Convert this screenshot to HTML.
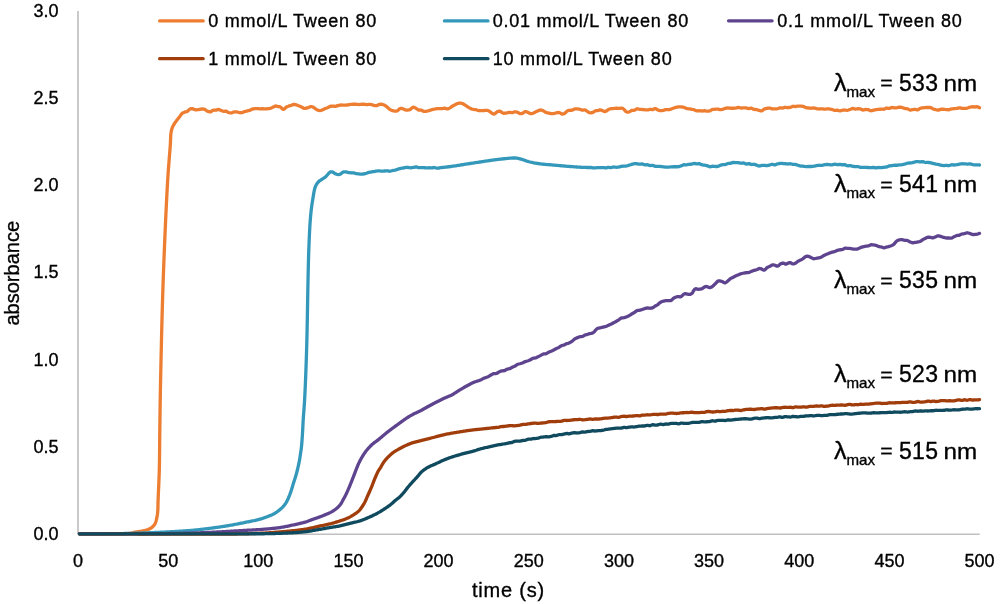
<!DOCTYPE html>
<html><head><meta charset="utf-8"><style>
html,body{margin:0;padding:0;background:#fff;}
svg{display:block;will-change:transform;}
text{font-family:"Liberation Sans",sans-serif;fill:#000;stroke:#000;stroke-width:0.35px;}
</style></head><body>
<svg width="1000" height="604" viewBox="0 0 1000 604">
<line x1="78" y1="11" x2="78" y2="534" stroke="#C4C4C4" stroke-width="1.8"/>
<line x1="78" y1="534.2" x2="979.7" y2="534.2" stroke="#C0C0C0" stroke-width="1.6"/>
<text x="58.6" y="539.7" text-anchor="end" font-size="18">0.0</text>
<text x="58.6" y="452.6" text-anchor="end" font-size="18">0.5</text>
<text x="58.6" y="365.5" text-anchor="end" font-size="18">1.0</text>
<text x="58.6" y="278.4" text-anchor="end" font-size="18">1.5</text>
<text x="58.6" y="191.3" text-anchor="end" font-size="18">2.0</text>
<text x="58.6" y="104.2" text-anchor="end" font-size="18">2.5</text>
<text x="58.6" y="17.1" text-anchor="end" font-size="18">3.0</text>
<text x="78.0" y="567.2" text-anchor="middle" font-size="18">0</text>
<text x="168.2" y="567.2" text-anchor="middle" font-size="18">50</text>
<text x="258.3" y="567.2" text-anchor="middle" font-size="18">100</text>
<text x="348.4" y="567.2" text-anchor="middle" font-size="18">150</text>
<text x="438.6" y="567.2" text-anchor="middle" font-size="18">200</text>
<text x="528.8" y="567.2" text-anchor="middle" font-size="18">250</text>
<text x="618.9" y="567.2" text-anchor="middle" font-size="18">300</text>
<text x="709.0" y="567.2" text-anchor="middle" font-size="18">350</text>
<text x="799.2" y="567.2" text-anchor="middle" font-size="18">400</text>
<text x="889.4" y="567.2" text-anchor="middle" font-size="18">450</text>
<text x="979.5" y="567.2" text-anchor="middle" font-size="18">500</text>
<text x="472" y="596.6" font-size="20" letter-spacing="0.8">time (s)</text>
<text transform="translate(19,325.5) rotate(-90)" font-size="20">absorbance</text>
<path d="M79.40 533.80L80.42 533.80L81.46 533.80L82.52 533.80L83.58 533.81L84.66 533.81L85.75 533.81L86.85 533.82L87.96 533.82L89.07 533.83L90.19 533.83L91.31 533.84L92.44 533.84L93.57 533.85L94.70 533.85L95.83 533.86L96.95 533.86L98.08 533.87L99.19 533.87L100.30 533.88L101.41 533.88L102.51 533.89L103.59 533.89L104.67 533.89L105.73 533.90L106.78 533.90L107.81 533.90L108.83 533.90L109.83 533.90L110.81 533.90L111.77 533.89L112.71 533.89L113.63 533.89L114.52 533.88L115.39 533.87L116.23 533.86L117.05 533.85L117.83 533.84L118.59 533.83L119.31 533.82L120.00 533.80L121.28 533.77L122.47 533.74L123.58 533.72L124.61 533.69L125.59 533.65L126.51 533.61L127.41 533.56L128.28 533.49L129.14 533.40L130.00 533.30L131.09 533.12L132.12 532.91L133.10 532.68L134.06 532.43L135.02 532.20L136.00 532.00L137.18 531.80L138.36 531.64L139.54 531.48L140.72 531.31L141.90 531.10L142.92 530.90L143.95 530.69L144.99 530.46L146.00 530.21L146.98 529.93L147.90 529.60L149.02 529.12L150.08 528.59L151.08 527.98L152.00 527.30L152.86 526.55L153.65 525.72L154.37 524.81L155.00 523.80L155.41 522.93L155.77 521.99L156.07 520.98L156.33 519.95L156.57 518.92L156.80 517.90L157.01 516.93L157.18 515.99L157.34 515.04L157.47 514.06L157.59 513.02L157.70 511.90L157.77 510.99L157.83 510.06L157.87 509.09L157.91 508.10L157.93 507.07L157.96 506.00L157.98 504.90L158.00 503.75L158.02 502.55L158.06 501.30L158.10 500.00L158.13 499.21L158.16 498.40L158.20 497.57L158.23 496.72L158.27 495.84L158.31 494.94L158.35 494.02L158.39 493.09L158.43 492.14L158.48 491.17L158.52 490.19L158.56 489.19L158.61 488.18L158.66 487.16L158.70 486.12L158.75 485.08L158.79 484.03L158.84 482.97L158.88 481.90L158.93 480.82L158.97 479.75L159.01 478.67L159.05 477.58L159.09 476.49L159.13 475.41L159.17 474.32L159.21 473.24L159.24 472.15L159.27 471.07L159.30 470.00L159.32 469.07L159.35 468.14L159.37 467.20L159.39 466.25L159.41 465.31L159.42 464.35L159.44 463.40L159.46 462.44L159.47 461.48L159.49 460.51L159.50 459.54L159.51 458.56L159.53 457.59L159.54 456.60L159.55 455.62L159.56 454.63L159.57 453.64L159.58 452.64L159.59 451.64L159.60 450.64L159.61 449.63L159.61 448.62L159.62 447.61L159.63 446.60L159.64 445.58L159.65 444.56L159.66 443.54L159.66 442.51L159.67 441.48L159.68 440.45L159.69 439.41L159.70 438.38L159.71 437.34L159.72 436.30L159.73 435.25L159.75 434.21L159.76 433.16L159.77 432.11L159.79 431.05L159.80 430.00L159.81 429.06L159.83 428.12L159.84 427.18L159.85 426.24L159.87 425.30L159.88 424.37L159.89 423.43L159.90 422.50L159.92 421.56L159.93 420.63L159.94 419.70L159.96 418.76L159.97 417.83L159.98 416.89L159.99 415.95L160.01 415.01L160.02 414.07L160.03 413.12L160.05 412.17L160.06 411.22L160.07 410.27L160.09 409.31L160.10 408.35L160.12 407.39L160.13 406.42L160.14 405.45L160.16 404.47L160.17 403.49L160.19 402.50L160.21 401.50L160.22 400.50L160.24 399.50L160.25 398.48L160.27 397.46L160.29 396.44L160.31 395.40L160.32 394.36L160.34 393.31L160.36 392.25L160.38 391.19L160.40 390.11L160.42 389.03L160.44 387.93L160.46 386.83L160.48 385.72L160.51 384.60L160.53 383.46L160.55 382.32L160.58 381.17L160.60 380.00L160.62 379.17L160.64 378.33L160.65 377.48L160.67 376.63L160.69 375.77L160.71 374.91L160.73 374.04L160.74 373.16L160.76 372.28L160.78 371.39L160.80 370.49L160.82 369.59L160.84 368.69L160.86 367.78L160.88 366.86L160.90 365.94L160.92 365.01L160.94 364.08L160.96 363.14L160.98 362.20L161.00 361.25L161.02 360.30L161.04 359.34L161.06 358.38L161.08 357.41L161.11 356.44L161.13 355.47L161.15 354.49L161.17 353.51L161.19 352.52L161.22 351.53L161.24 350.54L161.26 349.54L161.28 348.54L161.31 347.54L161.33 346.53L161.35 345.52L161.38 344.50L161.40 343.49L161.43 342.47L161.45 341.45L161.47 340.42L161.50 339.39L161.52 338.37L161.55 337.33L161.57 336.30L161.60 335.26L161.62 334.22L161.65 333.18L161.67 332.14L161.70 331.10L161.73 330.05L161.75 329.01L161.78 327.96L161.80 326.91L161.83 325.86L161.86 324.81L161.89 323.75L161.91 322.70L161.94 321.64L161.97 320.59L162.00 319.53L162.02 318.48L162.05 317.42L162.08 316.36L162.11 315.31L162.14 314.25L162.17 313.19L162.20 312.13L162.23 311.08L162.26 310.02L162.29 308.97L162.32 307.91L162.35 306.86L162.38 305.80L162.41 304.75L162.44 303.70L162.47 302.65L162.50 301.60L162.53 300.55L162.56 299.50L162.59 298.45L162.63 297.41L162.66 296.37L162.69 295.33L162.72 294.29L162.76 293.25L162.79 292.22L162.82 291.18L162.86 290.15L162.89 289.13L162.92 288.10L162.96 287.08L162.99 286.06L163.03 285.04L163.06 284.03L163.09 283.01L163.13 282.01L163.16 281.00L163.20 280.00L163.24 279.00L163.27 277.99L163.31 276.98L163.35 275.96L163.38 274.94L163.42 273.91L163.46 272.88L163.50 271.85L163.53 270.81L163.57 269.77L163.61 268.72L163.65 267.67L163.69 266.62L163.73 265.57L163.77 264.51L163.81 263.45L163.86 262.38L163.90 261.32L163.94 260.25L163.98 259.18L164.02 258.10L164.07 257.03L164.11 255.95L164.15 254.87L164.19 253.79L164.24 252.71L164.28 251.63L164.33 250.55L164.37 249.46L164.41 248.38L164.46 247.29L164.50 246.21L164.55 245.12L164.59 244.04L164.64 242.95L164.69 241.87L164.73 240.78L164.78 239.70L164.82 238.61L164.87 237.53L164.92 236.45L164.96 235.37L165.01 234.29L165.06 233.21L165.10 232.14L165.15 231.06L165.20 229.99L165.24 228.92L165.29 227.85L165.34 226.79L165.39 225.72L165.44 224.66L165.48 223.61L165.53 222.55L165.58 221.50L165.63 220.45L165.67 219.41L165.72 218.37L165.77 217.33L165.82 216.30L165.87 215.27L165.91 214.25L165.96 213.23L166.01 212.21L166.06 211.20L166.11 210.19L166.16 209.19L166.20 208.20L166.25 207.21L166.30 206.22L166.35 205.24L166.40 204.27L166.44 203.30L166.49 202.34L166.54 201.39L166.59 200.44L166.64 199.50L166.68 198.56L166.73 197.63L166.78 196.71L166.83 195.80L166.87 194.89L166.92 193.99L166.97 193.10L167.01 192.22L167.06 191.34L167.11 190.47L167.15 189.61L167.20 188.76L167.25 187.92L167.29 187.09L167.34 186.26L167.38 185.44L167.43 184.64L167.48 183.84L167.52 183.05L167.57 182.28L167.61 181.51L167.66 180.75L167.70 180.00L167.78 178.75L167.85 177.52L167.93 176.30L168.01 175.09L168.09 173.90L168.17 172.73L168.25 171.57L168.33 170.43L168.41 169.30L168.49 168.18L168.57 167.08L168.66 166.00L168.74 164.93L168.82 163.87L168.90 162.83L168.98 161.80L169.06 160.79L169.14 159.79L169.22 158.81L169.30 157.84L169.38 156.89L169.45 155.95L169.53 155.02L169.60 154.11L169.67 153.21L169.75 152.33L169.81 151.46L169.88 150.60L169.95 149.76L170.01 148.93L170.07 148.12L170.13 147.32L170.19 146.53L170.25 145.76L170.30 145.00L170.38 143.71L170.44 142.46L170.49 141.26L170.54 140.11L170.57 139.01L170.61 137.94L170.66 136.91L170.71 135.92L170.77 134.97L170.86 134.05L170.97 133.16L171.10 132.30L171.31 131.19L171.53 130.18L171.78 129.23L172.07 128.32L172.41 127.42L172.80 126.50L173.30 125.50L173.89 124.50L174.53 123.51L175.19 122.54L175.86 121.60L176.50 120.70L177.17 119.80L177.84 118.94L178.51 118.10L179.17 117.30L179.80 116.50L180.42 115.61L180.98 114.72L181.58 113.89L182.30 113.20L183.25 112.70L184.33 112.36L185.45 111.86L186.50 111.82L187.43 111.36L188.29 110.44L189.18 109.60L190.20 108.96L191.11 108.65L192.11 108.56L193.16 108.89L194.24 109.39L195.33 109.76L196.40 109.86L197.50 109.72L198.63 109.55L199.77 109.32L200.89 109.10L201.98 108.99L203.00 109.03L204.06 109.10L205.03 109.52L205.97 110.24L206.94 110.96L208.00 111.34L208.89 111.72L209.79 111.87L210.72 111.81L211.69 111.14L212.71 110.47L213.81 110.11L215.00 110.13L215.83 110.23L216.71 109.90L217.65 109.59L218.63 109.46L219.66 109.86L220.71 110.30L221.79 110.69L222.89 111.08L224.01 111.31L225.12 111.25L226.24 111.21L227.34 111.86L228.43 112.48L229.50 112.78L230.54 112.91L231.54 112.93L232.50 112.55L233.58 112.08L234.63 111.90L235.66 111.90L236.67 111.89L237.66 112.14L238.65 112.36L239.62 112.53L240.59 112.65L241.56 112.76L242.54 112.47L243.51 112.05L244.50 111.62L245.51 111.35L246.52 111.04L247.53 110.79L248.54 110.61L249.54 110.42L250.55 109.91L251.55 109.39L252.55 109.00L253.55 108.83L254.54 108.70L255.52 108.63L256.50 108.61L257.57 108.65L258.63 108.69L259.67 108.78L260.71 108.78L261.75 108.75L262.79 108.74L263.83 108.83L264.87 108.89L265.93 108.89L267.00 108.81L268.00 108.68L269.04 108.57L270.10 108.39L271.18 108.00L272.27 107.52L273.35 107.01L274.41 106.49L275.44 106.01L276.42 106.09L277.35 106.32L278.22 106.61L279.00 106.55L280.07 106.83L280.97 107.49L281.79 108.37L282.61 109.09L283.50 109.37L284.28 108.99L285.07 108.31L285.87 107.42L286.69 106.91L287.55 106.51L288.45 106.25L289.40 105.83L290.30 105.56L291.25 105.36L292.25 104.91L293.28 104.52L294.33 104.44L295.38 104.67L296.42 104.93L297.43 105.31L298.40 105.68L299.40 106.07L300.40 106.44L301.39 106.89L302.36 107.44L303.31 108.00L304.24 108.47L305.13 108.47L306.00 108.31L307.06 107.92L308.05 107.61L309.00 107.22L309.97 106.78L311.00 106.52L311.93 106.68L312.86 107.02L313.81 107.52L314.78 108.15L315.80 109.03L316.87 109.76L318.00 110.25L318.87 110.43L319.79 110.52L320.75 110.34L321.74 110.09L322.76 109.71L323.79 109.19L324.84 108.63L325.89 108.27L326.94 107.96L327.98 107.54L329.00 106.94L330.00 106.41L331.02 106.24L332.01 106.16L332.99 106.13L333.97 106.26L334.94 106.39L335.93 106.27L336.92 105.92L337.94 105.57L338.99 105.30L340.07 105.03L341.20 104.96L342.13 105.06L343.09 105.16L344.07 105.16L345.09 105.15L346.13 105.12L347.18 105.01L348.25 104.92L349.34 104.68L350.43 104.44L351.52 104.30L352.62 104.27L353.71 104.26L354.80 104.25L355.87 104.25L356.93 104.35L357.98 104.48L359.00 104.56L360.00 104.42L361.06 104.30L362.14 104.25L363.22 104.25L364.30 104.31L365.38 104.47L366.45 104.64L367.51 104.54L368.55 104.40L369.57 104.36L370.57 104.47L371.53 104.56L372.46 104.87L373.35 105.22L374.20 105.54L375.00 105.68L376.13 105.70L377.12 105.54L378.04 105.04L378.94 104.58L379.91 104.26L381.00 104.18L381.80 104.27L382.66 104.47L383.59 104.78L384.56 105.17L385.57 105.85L386.60 106.65L387.65 107.51L388.70 108.43L389.74 109.33L390.76 109.91L391.75 110.33L392.70 110.68L393.60 110.93L394.44 111.06L395.20 111.06L396.39 111.07L397.42 110.73L398.38 109.96L399.37 109.03L400.50 108.34L401.41 108.43L402.41 108.68L403.47 109.06L404.56 109.56L405.65 110.05L406.72 110.06L407.74 110.02L408.68 109.96L409.50 109.83L410.52 109.28L411.35 108.47L412.18 107.68L413.20 107.20L413.97 107.29L414.82 107.63L415.74 108.12L416.70 108.76L417.71 109.50L418.75 110.14L419.81 110.09L420.88 109.98L421.95 110.45L423.00 111.06L423.95 111.42L424.91 111.38L425.88 111.27L426.86 111.10L427.86 110.90L428.86 110.66L429.87 110.32L430.89 109.96L431.91 109.64L432.94 109.43L433.97 109.27L435.00 109.01L436.01 108.77L437.03 108.61L438.07 108.63L439.12 108.67L440.17 108.65L441.22 108.62L442.28 108.54L443.33 108.36L444.37 108.15L445.41 108.42L446.42 108.79L447.42 108.97L448.40 108.62L449.39 108.17L450.37 107.58L451.32 106.90L452.26 106.17L453.19 105.69L454.11 105.25L455.03 104.83L455.95 104.30L456.87 103.84L457.80 103.47L458.74 103.18L459.70 103.03L460.59 103.07L461.50 103.27L462.43 103.57L463.36 104.02L464.30 104.58L465.25 105.20L466.19 105.81L467.12 106.43L468.05 107.05L468.96 107.61L469.86 108.14L470.73 108.60L471.58 108.95L472.40 109.21L473.57 109.46L474.69 109.56L475.77 109.63L476.83 110.00L477.87 110.32L478.93 110.52L480.00 110.58L481.08 110.53L482.17 110.58L483.26 110.56L484.34 110.48L485.42 110.41L486.47 110.42L487.50 110.46L488.51 110.77L489.50 111.35L490.47 112.06L491.43 112.81L492.37 113.48L493.29 113.96L494.20 114.08L495.13 113.57L496.03 112.73L496.92 111.93L497.80 111.48L498.66 111.21L499.50 111.15L500.39 111.36L501.21 111.95L502.04 112.64L502.95 113.10L504.00 113.24L504.86 113.20L505.82 113.14L506.85 112.96L507.93 112.73L509.06 112.47L510.19 112.42L511.33 112.61L512.44 112.67L513.50 112.24L514.50 111.93L515.67 111.90L516.84 112.07L517.99 112.52L519.10 113.17L520.16 113.68L521.13 113.71L522.00 113.57L523.06 112.99L523.94 112.21L525.00 111.63L525.89 111.65L526.89 111.92L527.98 112.34L529.12 112.95L530.28 113.51L531.41 113.55L532.50 113.33L533.45 113.01L534.38 112.61L535.30 112.07L536.22 111.59L537.14 111.17L538.08 110.84L539.03 110.35L540.00 110.05L540.95 110.01L541.92 110.22L542.89 110.59L543.88 111.12L544.87 111.78L545.89 112.44L546.91 112.76L547.95 112.92L549.00 113.11L550.02 113.42L551.10 113.64L552.20 113.62L553.33 113.53L554.45 113.31L555.56 113.02L556.64 112.75L557.66 112.59L558.62 112.47L559.50 112.67L560.76 113.39L561.87 114.00L562.92 114.02L564.00 113.76L564.83 113.28L565.60 112.59L566.38 111.78L567.20 111.09L568.12 110.64L569.20 110.41L570.00 110.31L570.90 110.25L571.89 110.23L572.96 109.74L574.07 109.19L575.23 108.93L576.42 108.92L577.61 108.96L578.80 109.09L579.97 109.27L581.11 109.71L582.19 110.14L583.21 110.08L584.15 109.93L585.00 109.82L586.17 110.51L587.19 111.30L588.12 111.95L589.02 112.43L589.96 112.79L591.00 112.89L591.93 112.73L592.92 112.35L593.96 111.73L595.01 111.03L596.07 110.69L597.12 110.61L598.14 110.52L599.10 110.15L600.00 109.97L601.15 110.11L602.24 110.55L603.27 111.09L604.25 111.48L605.20 111.51L606.14 111.11L606.96 110.55L607.86 109.91L609.00 109.33L609.77 109.01L610.66 108.70L611.65 108.56L612.73 108.53L613.86 108.48L615.03 108.26L616.22 108.06L617.39 108.25L618.54 108.47L619.64 108.32L620.66 108.10L621.59 108.04L622.40 108.31L623.47 108.90L624.33 109.72L625.11 110.69L625.96 111.58L627.00 112.14L627.79 112.14L628.67 112.02L629.61 111.69L630.61 111.12L631.66 110.49L632.73 110.37L633.81 110.33L634.90 110.00L635.98 109.37L637.03 108.81L638.04 108.97L639.00 109.21L640.06 109.40L641.12 109.42L642.16 109.51L643.19 109.58L644.19 109.66L645.18 109.77L646.15 109.89L647.09 109.94L648.00 109.87L649.06 109.63L650.05 109.29L651.00 109.44L651.95 109.59L652.94 109.49L654.00 108.90L654.92 108.50L655.88 108.78L656.86 109.38L657.88 110.00L658.90 110.31L659.94 110.61L660.97 110.70L661.99 110.60L663.00 110.40L664.01 110.09L665.02 109.71L666.03 109.53L667.05 109.64L668.06 109.73L669.06 109.53L670.05 109.30L671.03 109.05L672.00 108.69L673.07 108.30L674.09 107.94L675.07 107.60L676.07 107.29L677.12 107.05L678.25 106.87L679.50 106.81L680.27 106.84L681.09 106.92L681.95 106.99L682.83 107.08L683.76 107.21L684.71 107.66L685.68 108.15L686.68 108.56L687.69 108.70L688.73 108.84L689.77 108.99L690.82 109.14L691.88 109.29L692.95 109.50L694.01 109.69L695.07 110.16L696.12 110.67L697.16 110.96L698.19 110.88L699.20 110.75L700.22 110.85L701.25 110.97L702.29 111.01L703.33 110.88L704.37 110.72L705.41 110.86L706.46 111.07L707.51 111.19L708.56 111.08L709.61 110.97L710.66 110.43L711.70 109.79L712.75 109.35L713.80 109.31L714.84 109.27L715.88 109.20L716.92 109.14L717.95 109.19L718.98 109.44L720.00 109.71L721.03 109.60L722.07 109.38L723.11 109.12L724.16 108.76L725.21 108.40L726.25 108.18L727.30 108.00L728.34 107.93L729.37 108.08L730.40 108.23L731.43 108.25L732.44 108.25L733.45 108.24L734.44 108.22L735.43 108.21L736.39 107.99L737.35 107.65L738.28 107.33L739.20 107.51L740.37 107.86L741.52 108.02L742.66 107.94L743.78 107.88L744.88 107.84L745.96 107.81L747.02 108.10L748.06 108.50L749.08 108.71L750.08 108.45L751.05 108.21L752.00 108.39L753.10 108.93L754.15 109.45L755.15 109.48L756.13 109.52L757.10 109.73L758.05 110.06L759.02 110.29L760.00 110.66L761.00 110.91L762.00 110.84L763.00 110.03L763.99 109.16L764.99 108.68L765.99 108.52L766.99 108.46L768.00 108.18L769.00 108.07L770.01 108.18L771.03 108.52L772.05 108.90L773.06 108.95L774.06 108.92L775.04 108.88L776.00 108.90L777.08 108.77L778.08 108.51L779.06 108.19L780.07 107.87L781.17 107.91L782.40 108.05L783.21 107.92L784.08 107.68L785.01 107.45L785.98 107.47L787.00 107.57L788.04 107.63L789.11 107.51L790.20 107.40L791.29 106.96L792.38 106.47L793.46 106.27L794.52 106.47L795.55 106.67L796.55 106.44L797.50 106.21L798.40 106.04L799.56 106.03L800.65 106.06L801.69 106.15L802.70 106.27L803.70 106.53L804.71 107.09L805.75 107.66L806.84 107.86L808.00 107.93L808.88 108.00L809.79 108.11L810.71 108.23L811.65 108.22L812.61 108.07L813.59 107.92L814.58 108.09L815.59 108.35L816.60 108.60L817.63 108.79L818.67 108.99L819.72 108.97L820.78 108.84L821.85 108.78L822.92 108.98L824.00 109.18L824.94 109.13L825.93 109.03L826.95 108.93L828.00 108.94L829.08 108.94L830.18 109.09L831.29 109.28L832.42 109.58L833.54 110.05L834.67 110.47L835.79 110.35L836.89 110.22L837.98 110.38L839.04 110.64L840.07 110.77L841.07 110.55L842.02 110.34L842.93 110.20L843.79 110.11L844.59 110.02L845.33 110.03L846.00 110.16L847.37 110.29L848.39 110.02L849.42 109.69L850.80 109.20L851.45 108.86L852.16 108.53L852.92 108.29L853.74 108.60L854.61 108.94L855.52 109.23L856.48 109.00L857.47 108.76L858.49 108.69L859.54 108.79L860.61 108.91L861.70 109.46L862.81 110.02L863.93 109.95L865.06 109.53L866.18 109.32L867.31 109.53L868.43 109.73L869.54 110.24L870.64 110.73L871.72 110.69L872.77 110.38L873.80 110.09L874.80 109.89L875.84 109.66L876.88 109.54L877.93 109.45L878.98 109.35L880.03 109.24L881.08 109.11L882.12 109.14L883.17 109.23L884.21 109.18L885.26 108.62L886.29 108.06L887.33 108.08L888.35 108.33L889.37 108.47L890.39 108.01L891.39 107.57L892.39 107.50L893.37 107.70L894.35 107.92L895.31 107.85L896.26 107.79L897.20 107.71L898.28 107.41L899.35 107.17L900.41 107.24L901.46 107.42L902.50 107.67L903.53 108.06L904.55 108.45L905.55 108.61L906.55 108.68L907.53 108.82L908.51 109.35L909.47 109.85L910.42 110.05L911.36 109.87L912.28 109.64L913.20 109.55L914.29 109.45L915.33 109.34L916.33 109.63L917.31 109.86L918.28 109.62L919.25 108.93L920.22 108.24L921.21 108.00L922.23 107.91L923.29 107.82L924.40 107.62L925.33 107.53L926.29 107.48L927.27 107.47L928.28 107.50L929.30 107.49L930.34 107.51L931.40 107.90L932.46 108.57L933.53 109.20L934.61 109.43L935.68 109.66L936.76 109.84L937.83 110.01L938.89 110.01L939.94 109.63L940.98 109.23L942.00 109.20L943.03 109.25L944.07 109.31L945.12 109.47L946.18 109.60L947.24 109.70L948.30 109.77L949.35 109.69L950.39 109.30L951.42 108.90L952.43 108.78L953.43 108.72L954.40 108.65L955.35 108.53L956.27 108.43L957.15 108.28L958.00 108.07L959.13 107.84L960.18 107.97L961.17 108.22L962.13 108.45L963.07 108.45L964.02 108.41L964.99 108.36L966.00 108.28L967.06 108.11L968.16 107.77L969.30 107.36L970.45 107.03L971.59 106.80L972.69 106.68L973.74 106.81L974.72 107.01L975.60 106.90L976.70 106.74L977.66 106.81L978.57 107.29L979.50 107.74" fill="none" stroke="#ED7D31" stroke-width="3.3" stroke-linejoin="round" stroke-linecap="round"/>
<path d="M79.40 533.80L80.42 533.80L81.44 533.79L82.46 533.79L83.49 533.78L84.52 533.78L85.55 533.78L86.58 533.78L87.62 533.77L88.66 533.77L89.69 533.77L90.73 533.77L91.77 533.77L92.81 533.77L93.85 533.77L94.89 533.77L95.93 533.76L96.97 533.76L98.01 533.76L99.05 533.76L100.08 533.76L101.12 533.75L102.15 533.75L103.18 533.75L104.20 533.75L105.22 533.74L106.24 533.74L107.26 533.73L108.27 533.73L109.28 533.72L110.28 533.71L111.28 533.71L112.27 533.70L113.26 533.69L114.24 533.68L115.22 533.67L116.19 533.66L117.15 533.64L118.11 533.63L119.06 533.62L120.00 533.60L121.07 533.58L122.13 533.56L123.18 533.54L124.23 533.52L125.26 533.50L126.29 533.47L127.31 533.45L128.33 533.42L129.33 533.40L130.34 533.37L131.33 533.35L132.33 533.32L133.32 533.29L134.30 533.26L135.28 533.23L136.26 533.20L137.24 533.17L138.22 533.14L139.19 533.10L140.17 533.07L141.14 533.04L142.12 533.00L143.10 532.97L144.07 532.93L145.05 532.89L146.04 532.86L147.02 532.82L148.01 532.78L149.00 532.74L150.00 532.70L151.00 532.66L152.02 532.62L153.04 532.58L154.07 532.53L155.10 532.49L156.14 532.44L157.19 532.40L158.23 532.35L159.28 532.30L160.33 532.25L161.38 532.21L162.42 532.16L163.47 532.11L164.51 532.06L165.55 532.01L166.59 531.95L167.62 531.90L168.64 531.85L169.65 531.80L170.65 531.74L171.65 531.69L172.63 531.64L173.61 531.58L174.57 531.53L175.51 531.47L176.44 531.42L177.36 531.36L178.26 531.31L179.14 531.25L180.00 531.20L181.17 531.12L182.31 531.05L183.42 530.98L184.50 530.90L185.55 530.83L186.59 530.75L187.61 530.68L188.61 530.60L189.61 530.53L190.60 530.45L191.58 530.36L192.57 530.28L193.56 530.19L194.56 530.10L195.57 530.00L196.60 529.90L197.63 529.80L198.67 529.69L199.70 529.58L200.73 529.46L201.76 529.34L202.79 529.22L203.82 529.10L204.85 528.97L205.88 528.85L206.91 528.72L207.95 528.58L208.98 528.45L210.01 528.32L211.04 528.18L212.07 528.04L213.10 527.90L214.14 527.76L215.17 527.62L216.21 527.47L217.25 527.33L218.29 527.18L219.33 527.03L220.37 526.88L221.41 526.72L222.44 526.57L223.48 526.41L224.52 526.25L225.56 526.09L226.59 525.92L227.63 525.75L228.67 525.58L229.70 525.40L230.74 525.22L231.78 525.03L232.82 524.84L233.87 524.65L234.91 524.45L235.96 524.25L237.01 524.05L238.05 523.85L239.09 523.64L240.13 523.44L241.16 523.23L242.18 523.02L243.20 522.81L244.21 522.61L245.21 522.40L246.20 522.20L247.23 521.99L248.27 521.78L249.31 521.57L250.34 521.37L251.37 521.16L252.40 520.96L253.41 520.75L254.41 520.54L255.39 520.33L256.36 520.11L257.31 519.89L258.23 519.67L259.13 519.44L260.00 519.20L261.16 518.86L262.27 518.51L263.35 518.15L264.40 517.78L265.41 517.41L266.40 517.04L267.36 516.67L268.30 516.30L269.32 515.90L270.30 515.52L271.24 515.14L272.16 514.73L273.08 514.29L274.00 513.80L274.87 513.28L275.75 512.71L276.64 512.10L277.50 511.48L278.35 510.84L279.15 510.21L279.90 509.60L280.90 508.76L281.82 507.93L282.68 507.09L283.50 506.20L284.27 505.28L284.99 504.32L285.66 503.32L286.30 502.30L286.79 501.43L287.25 500.54L287.68 499.62L288.10 498.71L288.50 497.80L288.96 496.73L289.38 495.66L289.80 494.59L290.20 493.50L290.62 492.34L291.02 491.17L291.42 489.99L291.80 488.80L292.09 487.86L292.36 486.92L292.62 485.97L292.90 485.01L293.20 484.00L293.52 482.97L293.88 481.90L294.24 480.80L294.61 479.69L294.96 478.58L295.30 477.50L295.60 476.49L295.90 475.49L296.19 474.49L296.47 473.50L296.74 472.50L297.00 471.50L297.25 470.50L297.49 469.50L297.73 468.50L297.96 467.50L298.18 466.50L298.40 465.50L298.66 464.34L298.90 463.20L299.15 462.05L299.38 460.89L299.60 459.70L299.78 458.61L299.96 457.50L300.12 456.38L300.28 455.25L300.44 454.12L300.60 453.00L300.76 451.94L300.91 450.91L301.07 449.89L301.22 448.84L301.36 447.72L301.50 446.50L301.59 445.63L301.68 444.71L301.76 443.75L301.84 442.76L301.92 441.73L302.00 440.68L302.08 439.61L302.15 438.53L302.23 437.44L302.30 436.36L302.37 435.29L302.43 434.23L302.50 433.20L302.56 432.19L302.62 431.19L302.67 430.21L302.72 429.22L302.77 428.24L302.82 427.26L302.87 426.27L302.92 425.27L302.97 424.26L303.02 423.23L303.07 422.18L303.13 421.10L303.20 420.00L303.26 419.10L303.32 418.21L303.38 417.31L303.44 416.41L303.51 415.50L303.58 414.59L303.65 413.67L303.72 412.73L303.80 411.78L303.87 410.82L303.94 409.84L304.02 408.85L304.09 407.83L304.17 406.79L304.24 405.73L304.32 404.64L304.39 403.53L304.46 402.38L304.53 401.21L304.60 400.00L304.64 399.22L304.69 398.43L304.73 397.63L304.77 396.81L304.81 395.99L304.85 395.16L304.90 394.31L304.94 393.46L304.98 392.59L305.02 391.72L305.06 390.83L305.11 389.94L305.15 389.03L305.19 388.12L305.23 387.20L305.27 386.27L305.31 385.32L305.35 384.37L305.40 383.42L305.44 382.45L305.48 381.47L305.52 380.49L305.56 379.49L305.60 378.49L305.64 377.48L305.68 376.46L305.72 375.44L305.76 374.41L305.80 373.37L305.84 372.32L305.88 371.26L305.92 370.20L305.96 369.13L306.00 368.06L306.04 366.97L306.07 365.88L306.11 364.79L306.15 363.68L306.19 362.57L306.23 361.46L306.27 360.34L306.30 359.21L306.34 358.08L306.38 356.94L306.42 355.80L306.45 354.65L306.49 353.49L306.53 352.33L306.56 351.17L306.60 350.00L306.63 349.17L306.65 348.32L306.68 347.46L306.70 346.59L306.73 345.71L306.75 344.82L306.77 343.92L306.80 343.01L306.82 342.08L306.84 341.15L306.87 340.21L306.89 339.26L306.91 338.30L306.94 337.33L306.96 336.35L306.98 335.37L307.00 334.38L307.03 333.37L307.05 332.37L307.07 331.35L307.09 330.33L307.11 329.30L307.13 328.26L307.15 327.22L307.18 326.17L307.20 325.12L307.22 324.06L307.24 323.00L307.26 321.93L307.28 320.85L307.30 319.78L307.32 318.70L307.34 317.61L307.36 316.52L307.38 315.43L307.40 314.33L307.42 313.24L307.44 312.14L307.46 311.03L307.48 309.93L307.50 308.82L307.52 307.72L307.54 306.61L307.56 305.50L307.58 304.39L307.60 303.28L307.62 302.17L307.64 301.05L307.66 299.94L307.68 298.83L307.69 297.73L307.71 296.62L307.73 295.51L307.75 294.41L307.77 293.31L307.79 292.21L307.81 291.11L307.83 290.01L307.85 288.92L307.87 287.83L307.89 286.75L307.91 285.67L307.93 284.59L307.96 283.52L307.98 282.45L308.00 281.39L308.02 280.33L308.04 279.28L308.06 278.23L308.08 277.19L308.10 276.15L308.12 275.12L308.14 274.10L308.17 273.09L308.19 272.08L308.21 271.08L308.23 270.09L308.25 269.10L308.28 268.13L308.30 267.16L308.32 266.20L308.35 265.25L308.37 264.31L308.39 263.38L308.42 262.46L308.44 261.55L308.46 260.65L308.49 259.76L308.51 258.88L308.54 258.01L308.56 257.15L308.59 256.31L308.61 255.47L308.64 254.65L308.67 253.85L308.69 253.05L308.72 252.27L308.75 251.50L308.77 250.74L308.80 250.00L308.85 248.71L308.90 247.45L308.94 246.21L308.99 244.99L309.04 243.78L309.08 242.60L309.13 241.44L309.18 240.29L309.23 239.16L309.27 238.05L309.32 236.96L309.37 235.88L309.42 234.82L309.46 233.77L309.51 232.74L309.56 231.73L309.61 230.73L309.67 229.74L309.72 228.76L309.77 227.80L309.83 226.85L309.88 225.91L309.94 224.98L310.00 224.06L310.06 223.16L310.12 222.26L310.18 221.37L310.25 220.49L310.31 219.62L310.38 218.75L310.45 217.89L310.53 217.04L310.60 216.20L310.71 215.00L310.82 213.84L310.94 212.71L311.05 211.61L311.17 210.54L311.29 209.50L311.41 208.47L311.54 207.46L311.67 206.47L311.81 205.49L311.94 204.52L312.09 203.55L312.23 202.59L312.38 201.63L312.54 200.67L312.70 199.70L312.88 198.61L313.06 197.50L313.23 196.38L313.41 195.26L313.59 194.15L313.78 193.05L313.98 191.98L314.19 190.93L314.41 189.92L314.65 188.95L314.91 188.04L315.20 187.19L315.50 186.40L316.06 185.20L316.66 184.15L317.31 183.20L318.02 182.33L318.80 181.50L319.53 180.86L320.33 180.30L321.17 179.78L322.04 179.27L322.92 178.72L323.80 178.10L324.58 177.42L325.36 177.12L326.14 176.26L326.93 175.39L327.75 174.50L328.59 173.46L329.47 172.55L330.40 171.91L331.30 171.83L332.27 171.95L333.28 172.37L334.33 173.05L335.37 173.78L336.40 174.13L337.40 174.39L338.34 174.54L339.20 174.53L340.26 174.18L341.21 173.53L342.10 172.76L343.01 172.06L344.00 171.79L344.93 171.83L345.87 171.99L346.85 172.14L347.85 172.34L348.90 172.54L350.00 172.70L350.90 172.82L351.86 172.83L352.85 172.84L353.87 172.94L354.91 173.25L355.96 173.55L357.01 173.72L358.03 173.82L359.04 173.91L360.00 174.05L361.04 174.12L362.06 174.09L363.07 174.00L364.05 173.86L365.04 173.58L366.02 173.31L367.00 173.01L368.00 172.65L368.98 172.35L369.93 172.16L370.87 172.02L371.82 171.88L372.80 171.72L373.80 171.57L374.87 171.39L376.00 171.19L376.85 171.04L377.74 170.97L378.66 170.92L379.62 170.87L380.60 171.01L381.60 171.16L382.63 171.20L383.66 171.09L384.71 170.98L385.77 170.95L386.82 170.91L387.88 170.96L388.93 171.11L389.97 171.25L390.99 171.00L392.00 170.72L393.00 170.49L394.00 170.34L395.00 170.17L395.99 169.86L396.99 169.51L397.98 169.15L398.97 168.83L399.97 168.51L400.96 168.31L401.96 168.21L402.96 168.12L403.96 167.85L404.96 167.58L405.97 167.42L406.98 167.43L408.00 167.48L408.98 167.59L409.98 167.72L410.97 167.82L411.98 167.64L412.98 167.48L413.99 167.29L415.01 167.08L416.02 166.89L417.03 167.20L418.04 167.53L419.05 167.70L420.06 167.68L421.06 167.67L422.06 167.66L423.04 167.66L424.03 167.67L425.00 167.75L426.03 167.83L427.07 167.83L428.11 167.79L429.15 167.76L430.18 167.81L431.21 167.85L432.24 167.77L433.26 167.61L434.27 167.48L435.26 167.76L436.24 168.03L437.21 168.18L438.16 168.17L439.09 168.14L440.00 167.60L441.07 167.55L442.08 167.48L443.04 167.41L443.99 167.32L444.92 167.23L445.85 167.12L446.82 167.00L447.82 166.88L448.87 166.74L450.00 166.60L450.85 166.49L451.75 166.36L452.70 166.23L453.67 166.09L454.68 165.94L455.72 165.78L456.77 165.62L457.84 165.45L458.92 165.28L460.00 165.10L461.09 164.93L462.17 164.75L463.24 164.58L464.29 164.41L465.32 164.24L466.33 164.08L467.31 163.92L468.25 163.77L469.15 163.63L470.00 163.50L471.14 163.33L472.22 163.16L473.25 163.01L474.25 162.86L475.21 162.71L476.16 162.57L477.11 162.43L478.05 162.29L479.02 162.15L480.00 162.00L481.00 161.85L482.00 161.70L483.00 161.54L484.00 161.39L485.00 161.24L486.00 161.09L487.00 160.94L488.00 160.79L489.00 160.64L490.00 160.50L490.99 160.36L491.97 160.22L492.93 160.09L493.90 159.95L494.87 159.82L495.85 159.69L496.85 159.56L497.87 159.44L498.92 159.32L500.00 159.20L500.93 159.10L501.91 158.99L502.93 158.88L503.99 158.76L505.07 158.65L506.17 158.53L507.27 158.42L508.36 158.32L509.43 158.22L510.48 158.14L511.50 158.07L512.47 158.02L513.38 157.99L514.23 157.98L515.00 158.00L516.15 158.07L517.12 158.18L518.02 158.34L518.94 158.55L520.00 158.80L520.87 159.03L521.79 159.31L522.75 159.63L523.75 159.97L524.78 160.34L525.83 160.70L526.88 161.07L527.94 161.41L528.98 161.73L530.00 162.00L530.98 162.24L531.96 162.45L532.92 162.66L533.89 162.84L534.86 163.02L535.84 163.19L536.84 163.35L537.86 163.50L538.91 163.65L540.00 163.80L540.91 163.92L541.84 164.03L542.80 164.14L543.78 164.24L544.77 164.33L545.78 164.43L546.79 164.52L547.82 164.60L548.85 164.69L549.88 164.77L550.92 164.86L551.95 164.94L552.98 165.03L553.99 165.11L555.00 165.20L556.00 165.29L557.00 165.38L558.01 165.47L559.01 165.56L560.02 165.65L561.02 165.75L562.03 165.84L563.03 165.92L564.04 166.01L565.04 166.10L566.04 166.18L567.03 166.27L568.03 166.35L569.01 166.42L570.00 166.50L571.01 166.58L571.99 166.65L572.96 166.73L573.92 166.81L574.88 166.88L575.84 166.95L576.79 167.02L577.76 167.09L578.74 167.15L579.74 167.21L580.76 167.27L581.81 167.32L582.89 167.36L584.00 167.40L584.88 167.43L585.79 167.45L586.72 167.48L587.68 167.50L588.66 167.52L589.66 167.54L590.68 167.30L591.70 167.57L592.74 167.85L593.79 167.85L594.84 167.84L595.90 167.78L596.96 167.67L598.02 167.56L599.07 167.59L600.12 167.61L601.16 167.60L602.19 167.57L603.21 167.54L604.21 167.70L605.19 167.85L606.15 167.87L607.09 167.67L608.00 167.47L609.10 167.45L610.18 167.54L611.26 167.54L612.33 167.26L613.38 166.98L614.42 167.04L615.45 167.19L616.46 167.27L617.46 167.19L618.45 167.10L619.42 166.89L620.37 166.61L621.30 166.33L622.22 166.23L623.12 166.16L624.00 166.07L625.19 166.06L626.34 166.01L627.46 165.73L628.54 165.39L629.60 165.05L630.63 164.71L631.64 164.40L632.63 164.12L633.60 163.88L634.69 163.72L635.67 163.71L636.62 163.75L637.61 163.88L638.71 164.11L640.00 164.23L640.72 164.11L641.50 164.00L642.34 163.96L643.24 164.34L644.19 164.74L645.18 164.94L646.21 164.78L647.27 164.63L648.35 164.98L649.46 165.43L650.59 165.57L651.72 165.42L652.85 165.42L653.99 165.87L655.12 166.33L656.23 166.38L657.33 166.40L658.40 166.42L659.44 166.45L660.45 166.48L661.41 166.59L662.33 166.68L663.19 166.77L664.00 166.88L665.23 167.03L666.35 167.11L667.38 167.15L668.36 167.16L669.32 167.08L670.29 166.98L671.31 166.88L672.40 166.80L673.60 166.70L674.42 166.74L675.28 166.74L676.17 166.73L677.09 166.74L678.04 166.73L679.01 166.58L680.00 166.24L681.01 165.88L682.03 165.44L683.07 164.97L684.11 164.67L685.16 164.78L686.22 164.89L687.27 164.71L688.32 164.48L689.37 164.31L690.40 164.24L691.43 164.20L692.44 163.87L693.43 163.51L694.40 163.31L695.45 163.58L696.49 163.90L697.52 163.89L698.55 163.75L699.57 163.73L700.59 164.21L701.60 164.69L702.61 164.94L703.62 165.03L704.63 165.13L705.64 165.35L706.65 165.56L707.67 165.89L708.68 166.35L709.70 166.79L710.73 166.63L711.76 166.36L712.80 166.24L713.78 166.38L714.77 166.47L715.76 166.50L716.75 166.49L717.75 166.39L718.75 165.93L719.75 165.44L720.76 165.08L721.76 164.81L722.77 164.54L723.77 164.55L724.78 164.58L725.79 164.42L726.79 163.99L727.80 163.57L728.80 163.43L729.81 163.37L730.81 163.26L731.81 162.86L732.80 162.50L733.83 162.43L734.87 162.56L735.93 162.68L737.00 162.62L738.08 162.58L739.17 162.78L740.25 163.08L741.33 163.24L742.40 163.07L743.47 162.91L744.52 163.33L745.55 163.83L746.56 164.05L747.55 163.79L748.51 163.54L749.44 163.73L750.33 164.12L751.19 164.48L752.00 164.47L753.15 164.30L754.17 164.26L755.12 164.57L756.02 164.88L756.92 165.21L757.86 165.61L758.87 165.99L760.00 165.92L760.87 165.70L761.80 165.43L762.78 165.40L763.81 165.35L764.88 165.38L765.98 165.51L767.10 165.61L768.23 165.34L769.36 165.06L770.50 164.76L771.62 164.46L772.71 164.45L773.78 164.74L774.81 165.02L775.80 164.56L776.73 164.13L777.60 163.81L778.73 163.65L779.76 163.48L780.73 163.45L781.65 163.47L782.57 163.50L783.51 163.55L784.51 163.64L785.60 163.75L786.51 163.84L787.47 163.98L788.49 163.92L789.53 163.78L790.61 163.73L791.70 164.00L792.80 164.29L793.90 164.37L794.99 164.42L796.07 164.60L797.11 164.96L798.13 165.29L799.09 165.55L800.00 165.79L801.08 166.01L802.04 166.11L802.94 166.19L803.82 166.30L804.73 166.44L805.69 166.56L806.77 166.57L808.00 166.52L808.70 166.49L809.44 166.50L810.22 166.51L811.04 166.51L811.89 166.43L812.77 166.31L813.68 166.19L814.62 166.03L815.59 165.86L816.58 165.67L817.59 165.48L818.62 165.28L819.66 165.27L820.72 165.37L821.80 165.41L822.88 165.16L823.97 164.91L825.07 164.71L826.18 164.52L827.28 164.46L828.39 164.55L829.49 164.64L830.59 164.78L831.69 164.93L832.77 164.70L833.85 164.33L834.91 164.13L835.96 164.32L836.99 164.53L838.00 164.53L839.01 164.48L840.03 164.49L841.04 164.61L842.06 164.75L843.08 164.76L844.10 164.72L845.13 164.74L846.15 165.23L847.17 165.73L848.20 165.85L849.22 165.70L850.25 165.58L851.27 165.89L852.29 166.21L853.32 166.40L854.34 166.49L855.36 166.57L856.38 166.56L857.40 166.54L858.41 166.68L859.42 167.06L860.43 167.42L861.44 167.43L862.45 167.37L863.45 167.33L864.45 167.38L865.44 167.41L866.43 167.45L867.42 167.48L868.40 167.49L869.45 167.55L870.50 167.59L871.55 167.57L872.59 167.50L873.63 167.43L874.66 167.60L875.69 167.76L876.72 167.77L877.74 167.62L878.76 167.46L879.78 167.55L880.80 167.64L881.81 167.63L882.83 167.48L883.84 167.33L884.85 167.22L885.86 167.11L886.88 166.90L887.89 166.44L888.90 165.97L889.91 165.80L890.93 165.76L891.94 165.70L892.96 165.49L893.98 165.28L895.00 165.21L896.03 165.24L897.05 165.25L898.08 165.11L899.12 164.98L900.15 164.86L901.18 164.77L902.22 164.67L903.25 164.46L904.29 164.24L905.33 163.94L906.36 163.56L907.40 163.18L908.43 163.08L909.46 162.99L910.49 162.89L911.52 162.78L912.55 162.68L913.57 162.33L914.59 161.99L915.60 161.75L916.61 161.67L917.62 161.60L918.62 161.68L919.62 161.79L920.61 161.87L921.60 161.75L922.63 161.65L923.67 161.84L924.70 162.21L925.73 162.54L926.76 162.47L927.78 162.43L928.80 162.49L929.82 162.63L930.84 162.78L931.85 163.04L932.86 163.29L933.87 163.55L934.86 163.79L935.86 164.03L936.85 164.24L937.83 164.44L938.80 164.65L939.77 164.94L940.73 165.22L941.69 165.39L942.63 165.47L943.57 165.53L944.50 165.52L945.57 165.45L946.62 165.40L947.66 165.48L948.68 165.53L949.69 165.33L950.70 165.01L951.69 164.73L952.68 164.86L953.67 164.98L954.65 164.99L955.63 164.85L956.62 164.73L957.60 164.52L958.59 164.31L959.58 164.12L960.59 163.93L961.60 163.78L962.64 163.75L963.69 163.81L964.73 163.89L965.78 163.98L966.83 164.09L967.89 164.04L968.94 163.91L970.00 163.86L971.05 164.14L972.11 164.43L973.17 164.64L974.22 164.82L975.28 164.94L976.34 164.91L977.39 164.87L978.45 164.92L979.50 164.98" fill="none" stroke="#3498BB" stroke-width="3.3" stroke-linejoin="round" stroke-linecap="round"/>
<path d="M79.40 533.80L80.41 533.80L81.42 533.80L82.44 533.80L83.45 533.80L84.47 533.80L85.49 533.79L86.51 533.79L87.54 533.79L88.56 533.79L89.59 533.79L90.62 533.80L91.65 533.80L92.68 533.80L93.71 533.80L94.75 533.80L95.78 533.80L96.82 533.80L97.85 533.80L98.89 533.80L99.93 533.80L100.96 533.80L102.00 533.80L103.04 533.81L104.08 533.81L105.11 533.81L106.15 533.81L107.19 533.81L108.22 533.81L109.26 533.81L110.29 533.81L111.33 533.81L112.36 533.81L113.40 533.81L114.43 533.82L115.46 533.82L116.49 533.82L117.52 533.82L118.54 533.82L119.57 533.82L120.59 533.82L121.62 533.82L122.64 533.82L123.65 533.82L124.67 533.81L125.68 533.81L126.69 533.81L127.70 533.81L128.71 533.81L129.71 533.81L130.71 533.81L131.71 533.80L132.71 533.80L133.70 533.80L134.69 533.79L135.68 533.79L136.66 533.79L137.64 533.78L138.61 533.78L139.58 533.77L140.55 533.77L141.52 533.76L142.48 533.76L143.43 533.75L144.38 533.75L145.33 533.74L146.27 533.73L147.21 533.72L148.15 533.72L149.08 533.71L150.00 533.70L151.08 533.69L152.16 533.68L153.23 533.67L154.30 533.66L155.36 533.65L156.42 533.64L157.47 533.63L158.51 533.62L159.56 533.61L160.59 533.59L161.63 533.58L162.65 533.57L163.68 533.56L164.70 533.55L165.72 533.54L166.73 533.53L167.74 533.51L168.75 533.50L169.75 533.49L170.75 533.47L171.74 533.46L172.74 533.45L173.73 533.43L174.72 533.42L175.70 533.40L176.69 533.39L177.67 533.37L178.65 533.35L179.63 533.33L180.60 533.32L181.58 533.30L182.55 533.28L183.53 533.26L184.50 533.24L185.47 533.22L186.44 533.19L187.40 533.17L188.37 533.15L189.34 533.12L190.31 533.10L191.28 533.07L192.24 533.05L193.21 533.02L194.18 532.99L195.15 532.96L196.12 532.93L197.09 532.90L198.06 532.87L199.03 532.83L200.00 532.80L201.03 532.76L202.07 532.72L203.11 532.68L204.16 532.64L205.22 532.59L206.28 532.55L207.34 532.50L208.41 532.45L209.48 532.40L210.55 532.35L211.62 532.30L212.70 532.25L213.78 532.19L214.85 532.14L215.93 532.08L217.00 532.02L218.08 531.97L219.15 531.91L220.21 531.85L221.28 531.79L222.34 531.73L223.39 531.67L224.44 531.61L225.48 531.55L226.52 531.49L227.55 531.43L228.57 531.37L229.59 531.31L230.59 531.25L231.59 531.20L232.58 531.14L233.55 531.08L234.52 531.02L235.47 530.96L236.41 530.91L237.34 530.85L238.25 530.80L239.15 530.74L240.03 530.69L240.90 530.64L241.76 530.59L242.59 530.54L243.41 530.49L244.22 530.45L245.00 530.40L246.20 530.33L247.36 530.27L248.47 530.21L249.55 530.15L250.59 530.09L251.60 530.04L252.59 529.99L253.56 529.93L254.51 529.88L255.45 529.83L256.38 529.77L257.30 529.71L258.23 529.65L259.16 529.59L260.10 529.53L261.05 529.46L262.01 529.38L263.00 529.30L264.01 529.22L265.02 529.13L266.05 529.04L267.07 528.95L268.11 528.86L269.14 528.77L270.18 528.67L271.21 528.57L272.24 528.47L273.26 528.36L274.27 528.26L275.28 528.15L276.27 528.03L277.25 527.91L278.22 527.79L279.16 527.66L280.09 527.53L281.00 527.40L282.09 527.23L283.15 527.05L284.18 526.86L285.19 526.67L286.18 526.47L287.16 526.27L288.13 526.07L289.10 525.86L290.06 525.65L291.03 525.43L292.01 525.22L293.00 525.00L294.01 524.78L295.05 524.56L296.09 524.34L297.14 524.11L298.19 523.88L299.23 523.65L300.27 523.42L301.28 523.18L302.26 522.94L303.22 522.70L304.13 522.45L305.00 522.20L306.05 521.87L307.04 521.53L307.98 521.18L308.88 520.83L309.77 520.49L310.67 520.14L311.60 519.80L312.70 519.41L313.80 519.04L314.90 518.66L316.00 518.28L317.10 517.90L318.20 517.50L319.16 517.15L320.12 516.79L321.08 516.42L322.04 516.06L322.99 515.68L323.95 515.29L324.90 514.90L325.86 514.50L326.82 514.10L327.79 513.69L328.75 513.27L329.69 512.84L330.61 512.38L331.50 511.90L332.45 511.34L333.38 510.75L334.28 510.14L335.16 509.51L336.00 508.86L336.80 508.20L337.64 507.45L338.45 506.68L339.20 505.89L339.92 505.06L340.60 504.20L341.23 503.28L341.80 502.31L342.34 501.32L342.86 500.31L343.40 499.30L343.97 498.26L344.54 497.21L345.10 496.16L345.66 495.09L346.20 494.00L346.65 493.06L347.09 492.11L347.52 491.15L347.95 490.18L348.37 489.19L348.80 488.20L349.19 487.28L349.58 486.35L349.97 485.41L350.35 484.46L350.74 483.50L351.12 482.55L351.50 481.60L351.88 480.64L352.26 479.68L352.63 478.71L353.00 477.75L353.37 476.79L353.74 475.84L354.10 474.90L354.49 473.89L354.88 472.90L355.26 471.91L355.64 470.93L356.02 469.96L356.40 469.00L356.83 467.91L357.24 466.84L357.66 465.78L358.10 464.71L358.60 463.60L359.05 462.66L359.52 461.70L360.01 460.72L360.53 459.73L361.07 458.74L361.63 457.76L362.20 456.80L362.73 455.93L363.28 455.06L363.84 454.20L364.42 453.34L365.01 452.48L365.62 451.64L366.25 450.81L366.90 450.00L367.58 449.19L368.29 448.38L369.02 447.58L369.77 446.80L370.53 446.03L371.29 445.29L372.05 444.58L372.80 443.90L373.71 443.14L374.66 442.41L375.62 441.71L376.53 441.06L377.37 440.45L378.10 439.90L379.04 439.12L380.00 438.30L380.63 437.77L381.37 437.15L382.18 436.46L383.04 435.73L383.94 434.98L384.85 434.22L385.74 433.49L386.60 432.80L387.42 432.16L388.24 431.52L389.06 430.89L389.89 430.27L390.71 429.65L391.54 429.03L392.37 428.42L393.20 427.80L394.03 427.18L394.87 426.56L395.71 425.95L396.55 425.33L397.38 424.72L398.22 424.11L399.06 423.50L399.90 422.90L400.72 422.30L401.55 421.70L402.37 421.10L403.19 420.50L404.01 419.91L404.84 419.32L405.67 418.75L406.50 418.20L407.43 417.60L408.36 417.02L409.30 416.45L410.24 415.89L411.19 415.35L412.14 414.82L413.10 414.30L414.05 413.81L414.99 413.36L415.93 412.92L416.88 412.49L417.87 412.04L418.90 411.55L420.00 411.00L420.76 410.61L421.55 410.19L422.37 409.74L423.22 409.28L424.09 408.80L424.97 408.31L425.88 407.81L426.79 407.30L427.71 406.78L428.63 406.27L429.56 405.76L430.48 405.25L431.40 404.76L432.31 404.27L433.20 403.80L434.16 403.30L435.14 402.80L436.14 402.28L437.16 401.76L438.18 401.25L439.20 400.73L440.21 400.23L441.20 399.74L442.18 399.26L443.12 398.79L444.04 398.35L444.91 397.94L445.73 397.55L446.50 397.20L447.69 396.69L448.74 396.29L449.73 395.92L450.72 395.52L451.80 395.00L452.63 394.54L453.48 394.03L454.34 393.48L455.23 392.90L456.13 392.29L457.05 391.67L458.01 391.04L458.99 390.42L460.00 389.80L460.79 389.33L461.63 388.85L462.49 388.34L463.39 387.82L464.31 387.30L465.24 386.77L466.18 386.24L467.12 385.72L468.06 385.20L468.98 384.70L469.89 384.23L470.77 383.77L471.62 383.35L472.43 382.95L473.20 382.60L474.26 382.15L475.26 381.78L476.22 381.46L477.14 381.16L478.05 380.87L478.97 380.55L479.90 380.20L480.83 379.84L481.73 379.40L482.62 378.91L483.52 378.41L484.45 378.06L485.44 377.71L486.50 377.33L487.30 377.00L488.14 376.65L489.02 376.24L489.93 375.63L490.87 375.01L491.83 374.47L492.80 374.06L493.79 373.64L494.79 373.54L495.79 373.53L496.78 373.40L497.77 372.75L498.74 372.11L499.70 371.61L500.66 371.23L501.63 370.85L502.62 370.77L503.62 370.75L504.62 370.61L505.62 370.00L506.62 369.40L507.60 369.05L508.57 368.86L509.52 368.67L510.44 368.19L511.33 367.70L512.18 367.21L513.00 366.93L514.10 366.53L515.09 366.05L516.01 365.39L516.91 364.73L517.85 364.26L518.86 364.01L520.00 363.76L520.77 363.52L521.59 363.28L522.45 363.03L523.36 362.58L524.29 362.07L525.25 361.57L526.23 361.30L527.23 361.03L528.24 360.70L529.25 360.30L530.26 359.89L531.26 359.27L532.26 358.62L533.23 358.12L534.19 358.07L535.11 358.00L536.00 357.78L536.98 357.31L537.95 356.85L538.90 356.36L539.83 355.86L540.76 355.37L541.67 354.88L542.58 354.40L543.48 353.95L544.38 353.92L545.28 353.88L546.18 353.73L547.09 353.16L548.00 352.58L548.94 352.06L549.88 351.71L550.83 351.34L551.78 350.93L552.74 350.50L553.69 350.07L554.63 349.52L555.56 348.95L556.49 348.41L557.39 348.03L558.28 347.67L559.15 347.27L560.00 346.66L561.06 345.93L562.07 345.46L563.06 345.25L564.03 345.05L564.99 344.58L565.95 344.03L566.91 343.51L567.90 343.28L568.85 343.03L569.80 342.65L570.75 342.11L571.71 341.55L572.67 340.77L573.63 339.88L574.61 339.01L575.60 338.52L576.60 338.05L577.56 337.63L578.55 337.23L579.56 336.83L580.59 336.67L581.61 336.61L582.63 336.41L583.64 335.78L584.62 335.17L585.58 334.79L586.50 334.56L587.69 334.31L588.87 333.90L590.02 333.53L591.11 333.37L592.15 333.17L593.10 332.79L593.98 332.08L594.71 331.24L595.40 330.33L596.16 329.48L597.10 328.74L597.93 328.29L598.83 328.02L599.81 327.82L600.84 327.62L601.92 327.35L603.03 327.08L604.15 326.91L605.28 326.73L606.40 326.32L607.25 325.87L608.12 325.39L609.01 325.00L609.92 324.65L610.84 324.28L611.78 323.78L612.71 323.25L613.66 322.72L614.60 322.27L615.53 321.82L616.46 321.33L617.37 320.72L618.27 320.13L619.15 319.53L620.00 318.92L621.05 318.20L622.09 317.89L623.11 317.80L624.12 317.68L625.11 317.33L626.10 316.98L627.07 316.60L628.02 316.17L628.97 315.73L629.90 315.18L630.83 314.56L631.73 313.92L632.62 313.45L633.49 312.99L634.35 312.53L635.22 311.85L636.09 311.17L636.98 310.54L637.90 310.41L638.94 310.35L640.00 310.19L641.07 309.81L642.16 309.45L643.24 309.10L644.33 308.75L645.42 308.41L646.50 308.07L647.60 307.82L648.73 308.03L649.87 308.25L651.00 308.16L652.11 308.01L653.18 307.54L654.18 306.81L655.10 306.05L656.13 305.66L657.00 305.18L657.82 304.61L658.69 303.67L659.70 302.82L660.59 302.26L661.57 301.78L662.62 301.32L663.69 301.03L664.77 300.84L665.82 300.70L666.81 300.71L667.70 300.71L668.79 300.69L669.78 300.66L670.73 300.60L671.70 300.00L672.63 299.15L673.55 298.21L674.47 297.71L675.39 297.30L676.30 296.96L677.53 296.59L678.75 296.56L680.00 296.89L680.84 296.76L681.70 296.17L682.56 295.28L683.45 294.39L684.36 293.85L685.30 293.68L686.28 293.83L687.32 294.02L688.39 294.30L689.43 294.43L690.42 294.28L691.30 293.87L692.08 293.27L692.75 292.43L693.36 291.00L693.94 290.41L694.54 289.47L695.20 288.78L696.22 288.66L697.28 289.11L698.50 289.39L699.36 289.18L700.33 289.09L701.39 288.89L702.49 288.38L703.60 287.56L704.66 286.84L705.64 286.57L706.50 286.48L707.69 286.83L708.73 287.42L709.80 287.69L710.69 287.49L711.60 287.06L712.53 286.45L713.46 285.52L714.40 284.61L715.27 283.74L716.15 282.82L717.03 281.86L717.92 281.13L718.81 280.84L719.70 280.85L720.63 281.05L721.57 281.30L722.51 281.67L723.45 282.30L724.40 282.75L725.26 282.79L726.09 282.37L726.92 281.74L727.79 281.03L728.70 280.15L729.70 279.27L730.50 278.62L731.35 278.15L732.24 277.68L733.17 277.20L734.13 276.70L735.10 276.22L736.08 275.75L737.08 275.32L738.06 274.93L739.04 274.52L740.00 274.14L740.98 273.79L741.97 273.50L742.95 273.26L743.95 273.05L744.94 272.89L745.93 272.75L746.93 272.69L747.92 272.65L748.91 272.55L749.90 272.11L750.92 271.61L751.98 271.15L753.05 270.73L754.12 270.32L755.19 270.07L756.23 269.84L757.24 269.43L758.19 268.96L759.09 268.58L759.90 268.51L761.00 268.71L761.97 269.18L762.88 269.83L763.80 270.19L764.79 269.89L765.73 268.98L766.71 267.97L767.80 267.24L768.81 266.80L769.94 266.27L771.12 265.55L772.30 264.96L773.41 264.93L774.40 265.02L775.56 265.45L776.60 266.05L777.70 266.22L778.54 265.69L779.43 264.86L780.35 264.05L781.27 263.55L782.16 263.20L783.00 263.04L784.17 263.34L785.27 263.99L786.40 264.04L787.38 263.50L788.38 262.95L789.37 262.63L790.30 262.63L791.19 262.97L792.03 263.58L793.00 263.86L793.83 263.80L794.77 263.51L795.78 263.01L796.84 262.19L797.92 261.32L798.98 260.73L800.00 260.32L800.94 259.92L801.85 259.35L802.75 258.77L803.65 258.14L804.59 257.33L805.56 256.62L806.60 256.24L807.50 256.20L808.45 256.31L809.43 256.74L810.44 257.30L811.47 257.86L812.51 258.31L813.55 258.73L814.58 258.71L815.60 258.49L816.60 258.22L817.60 258.15L818.60 257.98L819.59 257.70L820.58 257.35L821.57 256.95L822.55 256.34L823.54 255.72L824.52 255.16L825.51 254.72L826.50 254.33L827.48 253.94L828.45 253.54L829.41 253.13L830.37 252.78L831.34 252.43L832.31 252.12L833.30 251.86L834.31 251.63L835.34 251.23L836.40 250.77L837.37 250.39L838.40 250.14L839.46 249.89L840.56 249.75L841.67 249.67L842.79 249.40L843.90 248.76L844.99 248.16L846.05 248.22L847.06 248.32L848.02 248.38L848.90 248.39L849.70 248.44L851.01 248.56L852.12 248.78L853.17 249.06L854.30 249.21L855.36 249.07L856.43 249.08L857.53 249.01L858.71 248.55L860.00 247.84L860.88 247.45L861.81 247.16L862.80 246.84L863.83 246.59L864.90 246.40L865.99 246.21L867.10 246.05L868.21 245.92L869.33 245.45L870.44 244.96L871.53 244.73L872.60 244.78L873.66 244.92L874.74 245.06L875.84 245.28L876.94 245.71L878.04 246.27L879.14 246.70L880.22 246.82L881.28 246.92L882.32 247.32L883.32 247.70L884.28 247.84L885.20 247.55L886.33 247.06L887.40 246.81L888.43 246.59L889.41 246.31L890.36 246.03L891.29 245.70L892.20 245.32L893.05 244.84L893.83 244.22L894.58 243.47L895.32 242.55L896.08 241.67L896.90 240.90L897.80 240.36L898.73 240.01L899.71 239.78L900.75 239.69L901.81 239.68L902.90 239.88L904.00 240.22L905.11 240.46L906.20 240.42L907.15 240.42L908.11 240.82L909.08 241.39L910.06 241.97L911.04 242.31L912.03 242.63L913.02 242.76L914.01 242.64L915.01 242.42L916.00 242.36L916.93 242.21L917.89 241.95L918.86 241.76L919.84 241.48L920.82 241.02L921.80 240.34L922.76 239.67L923.71 239.13L924.64 238.68L925.53 238.30L926.39 237.80L927.20 237.43L928.44 237.16L929.60 237.26L930.71 237.45L931.77 237.73L932.80 237.81L933.86 237.55L934.83 237.11L935.83 236.70L937.00 236.11L937.81 235.90L938.69 235.82L939.64 236.06L940.64 236.38L941.67 236.73L942.72 237.10L943.78 237.45L944.82 237.72L945.83 237.92L946.80 238.00L947.89 237.99L948.97 237.91L950.04 238.03L951.10 238.11L952.15 237.82L953.19 237.21L954.21 236.58L955.20 236.22L956.25 235.76L957.26 235.45L958.25 235.35L959.23 235.24L960.20 234.78L961.19 234.31L962.20 233.97L963.19 233.78L964.20 233.64L965.23 233.36L966.25 233.02L967.26 232.75L968.24 233.00L969.20 233.30L970.38 233.69L971.52 234.12L972.63 234.51L973.73 234.54L974.80 234.33L976.01 234.32L977.18 234.18L978.34 233.80L979.50 233.37" fill="none" stroke="#5E448E" stroke-width="3.3" stroke-linejoin="round" stroke-linecap="round"/>
<path d="M79.40 533.80L80.41 533.80L81.42 533.80L82.43 533.80L83.45 533.80L84.48 533.80L85.50 533.80L86.54 533.80L87.57 533.80L88.61 533.80L89.66 533.80L90.71 533.81L91.76 533.81L92.82 533.81L93.88 533.81L94.94 533.81L96.01 533.82L97.08 533.82L98.15 533.82L99.23 533.82L100.31 533.83L101.39 533.83L102.48 533.83L103.57 533.83L104.66 533.84L105.75 533.84L106.85 533.85L107.95 533.85L109.05 533.85L110.16 533.86L111.27 533.86L112.38 533.86L113.49 533.87L114.60 533.87L115.72 533.88L116.83 533.88L117.95 533.89L119.07 533.89L120.20 533.90L121.32 533.90L122.45 533.91L123.57 533.91L124.70 533.92L125.83 533.92L126.96 533.93L128.10 533.93L129.23 533.94L130.36 533.94L131.50 533.95L132.63 533.95L133.77 533.96L134.91 533.96L136.04 533.97L137.18 533.97L138.32 533.98L139.46 533.98L140.59 533.99L141.73 533.99L142.87 534.00L144.01 534.01L145.15 534.01L146.28 534.02L147.42 534.02L148.56 534.03L149.69 534.03L150.83 534.04L151.96 534.04L153.10 534.05L154.23 534.05L155.36 534.06L156.49 534.06L157.62 534.07L158.75 534.07L159.88 534.08L161.01 534.08L162.13 534.09L163.26 534.09L164.38 534.10L165.50 534.10L166.61 534.11L167.73 534.11L168.85 534.11L169.96 534.12L171.07 534.12L172.18 534.13L173.28 534.13L174.38 534.14L175.49 534.14L176.58 534.14L177.68 534.15L178.77 534.15L179.86 534.15L180.95 534.16L182.03 534.16L183.12 534.16L184.19 534.16L185.27 534.17L186.34 534.17L187.41 534.17L188.47 534.17L189.53 534.18L190.59 534.18L191.65 534.18L192.70 534.18L193.74 534.18L194.78 534.18L195.82 534.18L196.86 534.19L197.89 534.19L198.91 534.19L199.93 534.19L200.95 534.19L201.96 534.19L202.97 534.19L203.97 534.18L204.97 534.18L205.96 534.18L206.95 534.18L207.93 534.18L208.91 534.18L209.88 534.18L210.85 534.17L211.81 534.17L212.77 534.17L213.72 534.17L214.67 534.16L215.61 534.16L216.54 534.16L217.47 534.15L218.39 534.15L219.31 534.14L220.21 534.14L221.12 534.13L222.02 534.13L222.91 534.12L223.79 534.12L224.67 534.11L225.54 534.10L226.40 534.10L227.26 534.09L228.11 534.08L228.95 534.08L229.79 534.07L230.62 534.06L231.44 534.05L232.26 534.04L233.06 534.03L233.86 534.02L234.66 534.01L235.44 534.00L236.22 533.99L236.99 533.98L237.75 533.97L238.50 533.96L239.25 533.95L239.98 533.93L240.71 533.92L241.43 533.91L242.14 533.89L242.85 533.88L243.54 533.86L244.23 533.85L244.91 533.84L245.57 533.82L246.23 533.80L246.88 533.79L247.53 533.77L248.16 533.75L248.78 533.74L249.40 533.72L250.00 533.70L251.38 533.66L252.71 533.61L254.00 533.56L255.25 533.52L256.46 533.47L257.63 533.42L258.77 533.37L259.87 533.32L260.95 533.26L261.99 533.21L263.01 533.15L264.00 533.10L264.97 533.04L265.92 532.98L266.85 532.92L267.77 532.86L268.67 532.80L269.56 532.73L270.44 532.67L271.31 532.60L272.18 532.53L273.04 532.47L273.90 532.40L274.77 532.33L275.63 532.25L276.50 532.18L277.38 532.11L278.26 532.03L279.16 531.96L280.07 531.88L281.00 531.80L282.07 531.71L283.13 531.62L284.20 531.53L285.26 531.43L286.33 531.34L287.39 531.24L288.45 531.14L289.50 531.05L290.55 530.95L291.59 530.84L292.62 530.74L293.65 530.64L294.67 530.53L295.67 530.42L296.67 530.31L297.65 530.20L298.63 530.08L299.58 529.96L300.53 529.84L301.46 529.72L302.37 529.59L303.26 529.47L304.14 529.33L305.00 529.20L306.15 529.01L307.25 528.81L308.32 528.61L309.36 528.40L310.37 528.18L311.36 527.96L312.34 527.74L313.30 527.52L314.27 527.29L315.23 527.07L316.21 526.84L317.19 526.62L318.20 526.40L319.23 526.18L320.27 525.96L321.33 525.74L322.39 525.53L323.45 525.31L324.51 525.09L325.56 524.87L326.61 524.64L327.63 524.42L328.64 524.20L329.62 523.97L330.58 523.73L331.50 523.50L332.67 523.18L333.82 522.86L334.93 522.52L336.02 522.19L337.07 521.85L338.08 521.52L339.06 521.21L340.00 520.90L341.09 520.55L342.10 520.23L343.07 519.91L344.03 519.57L345.00 519.20L346.01 518.79L347.02 518.35L348.02 517.89L349.01 517.41L350.00 516.90L351.00 516.35L352.01 515.76L353.00 515.15L353.96 514.52L354.90 513.90L355.75 513.33L356.59 512.76L357.40 512.18L358.17 511.56L358.90 510.90L359.73 510.00L360.49 509.03L361.20 508.02L361.90 507.00L362.58 506.00L363.23 505.00L363.86 503.95L364.50 502.80L364.91 502.00L365.32 501.14L365.73 500.24L366.14 499.31L366.56 498.37L366.97 497.41L367.38 496.45L367.80 495.50L368.25 494.50L368.70 493.50L369.15 492.48L369.60 491.46L370.06 490.43L370.51 489.40L370.96 488.35L371.40 487.30L371.81 486.31L372.21 485.29L372.61 484.26L373.01 483.23L373.40 482.19L373.80 481.17L374.20 480.15L374.60 479.16L375.00 478.20L375.47 477.10L375.94 476.00L376.42 474.91L376.89 473.86L377.36 472.84L377.83 471.89L378.30 471.00L378.90 469.99L379.48 469.11L380.08 468.25L380.70 467.30L381.21 466.44L381.74 465.52L382.27 464.57L382.82 463.62L383.40 462.68L384.00 461.80L384.61 460.99L385.25 460.20L385.90 459.44L386.58 458.69L387.28 457.95L388.00 457.20L388.68 456.51L389.38 455.81L390.10 455.12L390.84 454.44L391.61 453.77L392.39 453.12L393.20 452.50L394.09 451.87L395.02 451.27L395.98 450.68L396.96 450.12L397.94 449.57L398.93 449.03L399.90 448.50L400.84 447.99L401.78 447.50L402.72 447.01L403.66 446.54L404.60 446.08L405.55 445.63L406.50 445.20L407.43 444.79L408.37 444.39L409.30 444.00L410.25 443.63L411.19 443.27L412.14 442.92L413.10 442.60L414.05 442.30L414.99 442.04L415.92 441.80L416.87 441.56L417.86 441.33L418.89 441.08L420.00 440.80L420.88 440.58L421.80 440.34L422.75 440.10L423.75 439.85L424.76 439.60L425.80 439.34L426.86 439.08L427.93 438.81L429.00 438.55L430.06 438.28L431.12 438.02L432.17 437.76L433.20 437.50L434.22 437.24L435.24 436.98L436.26 436.72L437.29 436.45L438.31 436.19L439.33 435.92L440.36 435.66L441.38 435.40L442.40 435.14L443.43 434.89L444.45 434.65L445.48 434.42L446.50 434.20L447.51 433.99L448.53 433.79L449.54 433.60L450.56 433.41L451.57 433.23L452.59 433.06L453.60 432.89L454.62 432.72L455.64 432.55L456.65 432.39L457.67 432.23L458.68 432.06L459.70 431.90L460.73 431.73L461.77 431.56L462.83 431.39L463.89 431.22L464.96 431.05L466.02 430.89L467.08 430.73L468.12 430.57L469.13 430.42L470.13 430.27L471.09 430.14L472.02 430.01L472.90 429.90L473.98 429.77L474.94 429.67L475.84 429.58L476.73 429.51L477.68 429.42L478.75 429.32L480.00 429.20L480.68 429.13L481.40 429.06L482.16 428.98L482.96 428.89L483.80 428.80L484.67 428.71L485.58 428.61L486.51 428.51L487.48 428.41L488.46 428.31L489.48 428.20L490.51 428.09L491.56 427.97L492.62 427.86L493.70 427.74L494.80 427.62L495.90 427.51L497.00 427.39L498.12 427.27L499.23 427.15L500.35 426.74L501.46 426.57L502.57 426.51L503.67 426.50L504.76 426.43L505.84 426.23L506.91 426.02L507.96 425.88L508.99 425.73L510.00 425.66L511.00 425.67L512.00 425.68L513.00 425.74L514.00 425.81L515.00 425.84L516.00 425.69L517.00 425.55L518.00 425.42L519.00 425.30L520.00 425.18L521.00 424.89L522.00 424.60L523.00 424.42L524.00 424.43L525.00 424.43L526.01 424.28L527.01 424.08L528.01 423.90L529.01 423.76L530.01 423.62L531.01 423.49L532.01 423.36L533.01 423.24L534.01 423.18L535.00 423.11L536.00 423.14L537.00 423.28L538.00 423.43L539.00 423.35L540.00 423.22L541.03 423.09L542.06 422.99L543.08 422.88L544.11 422.77L545.14 422.67L546.17 422.53L547.19 422.22L548.22 421.90L549.25 421.75L550.27 421.69L551.30 421.64L552.32 421.65L553.35 421.67L554.38 421.64L555.40 421.58L556.43 421.52L557.46 421.47L558.48 421.42L559.51 421.36L560.54 421.28L561.56 421.20L562.59 420.84L563.62 420.47L564.65 420.30L565.68 420.41L566.71 420.51L567.74 420.47L568.77 420.42L569.80 420.33L570.80 420.20L571.81 420.08L572.81 419.91L573.82 419.74L574.82 419.61L575.83 419.66L576.83 419.71L577.84 419.61L578.85 419.42L579.85 419.26L580.86 419.51L581.87 419.75L582.88 419.85L583.88 419.78L584.89 419.71L585.90 419.57L586.91 419.41L587.92 419.26L588.93 419.13L589.93 418.99L590.94 419.08L591.95 419.24L592.96 419.36L593.96 419.19L594.97 419.02L595.98 418.97L596.98 419.02L597.99 419.07L599.00 419.00L600.00 418.92L601.00 418.80L602.00 418.61L603.01 418.42L604.01 418.30L605.01 418.19L606.01 418.10L607.01 418.09L608.01 418.07L609.01 417.98L610.01 417.84L611.01 417.70L612.01 417.52L613.01 417.35L614.01 417.23L615.01 417.19L616.01 417.16L617.01 417.22L618.01 417.31L619.00 417.31L620.00 416.96L621.00 416.61L622.00 416.42L623.00 416.34L624.00 416.26L625.00 416.38L626.00 416.50L627.00 416.49L628.00 416.30L629.00 416.10L630.00 416.07L631.00 416.09L632.00 416.08L633.00 415.99L634.00 415.89L635.00 415.79L636.00 415.67L637.00 415.56L638.00 415.71L639.00 415.87L640.00 415.83L641.00 415.48L642.00 415.13L643.00 415.07L644.00 415.08L645.00 415.06L646.01 414.92L647.01 414.78L648.01 414.77L649.01 414.86L650.01 414.94L651.01 414.75L652.01 414.57L653.01 414.44L654.01 414.41L655.00 414.37L656.00 414.42L657.00 414.50L658.00 414.51L659.00 414.31L660.00 414.10L661.03 414.03L662.06 414.05L663.09 414.08L664.11 414.14L665.14 414.21L666.17 414.04L667.19 413.70L668.22 413.36L669.25 413.29L670.27 413.22L671.30 413.19L672.33 413.19L673.35 413.19L674.38 413.32L675.41 413.46L676.43 413.49L677.46 413.38L678.49 413.28L679.51 413.10L680.54 412.91L681.57 412.78L682.59 412.77L683.62 412.75L684.65 412.66L685.68 412.55L686.71 412.49L687.74 412.54L688.77 412.59L689.80 412.45L690.80 412.26L691.81 412.14L692.81 412.32L693.82 412.51L694.82 412.59L695.83 412.62L696.83 412.64L697.84 412.62L698.85 412.60L699.86 412.53L700.86 412.42L701.87 412.30L702.88 412.32L703.89 412.35L704.89 412.27L705.90 411.91L706.91 411.54L707.92 411.47L708.93 411.52L709.93 411.59L710.94 411.79L711.95 411.98L712.96 412.01L713.96 411.90L714.97 411.79L715.98 411.62L716.98 411.44L717.99 411.39L718.99 411.53L720.00 411.66L721.00 411.56L722.00 411.40L723.00 411.27L724.01 411.28L725.01 411.30L726.01 411.16L727.01 410.93L728.01 410.69L729.01 410.60L730.01 410.51L731.01 410.46L732.01 410.49L733.01 410.52L734.01 410.40L735.01 410.23L736.01 410.11L737.01 410.13L738.01 410.16L739.00 410.26L740.00 410.40L741.00 410.54L742.00 410.26L743.00 409.98L744.00 409.75L745.00 409.58L746.00 409.41L747.00 409.34L748.00 409.29L749.00 409.26L750.00 409.24L751.00 409.23L752.00 409.32L753.00 409.47L754.00 409.63L755.00 409.42L756.00 409.22L757.00 409.06L758.00 408.98L759.00 408.89L760.00 408.78L761.00 408.65L762.00 408.60L763.00 408.85L764.01 409.10L765.01 409.04L766.01 408.79L767.01 408.54L768.01 408.41L769.01 408.28L770.01 408.15L771.01 408.05L772.01 407.94L773.01 407.87L774.01 407.82L775.01 407.77L776.00 407.75L777.00 407.74L778.00 407.81L779.00 407.93L780.00 408.06L781.03 407.82L782.06 407.58L783.09 407.42L784.11 407.33L785.14 407.24L786.17 407.34L787.19 407.46L788.22 407.47L789.25 407.34L790.27 407.21L791.30 407.39L792.33 407.61L793.35 407.63L794.38 407.28L795.41 406.92L796.43 406.94L797.46 407.04L798.49 407.13L799.51 407.17L800.54 407.21L801.57 407.10L802.60 406.92L803.62 406.82L804.65 406.99L805.68 407.15L806.71 407.05L807.74 406.82L808.77 406.61L809.80 406.48L810.80 406.36L811.81 406.32L812.81 406.33L813.81 406.35L814.81 406.18L815.81 406.00L816.81 405.94L817.82 406.03L818.82 406.13L819.82 406.06L820.82 405.96L821.82 405.92L822.83 406.10L823.83 406.28L824.83 406.31L825.84 406.25L826.84 406.18L827.85 406.02L828.85 405.86L829.86 405.68L830.87 405.48L831.88 405.27L832.89 405.27L833.90 405.31L834.91 405.31L835.93 405.26L836.94 405.21L837.96 405.16L838.98 405.10L840.00 405.04L840.99 405.00L841.98 404.96L842.97 405.04L843.97 405.21L844.97 405.38L845.97 405.09L846.98 404.78L847.99 404.56L848.99 404.47L850.00 404.38L851.01 404.57L852.03 404.82L853.04 404.97L854.05 404.79L855.06 404.60L856.08 404.60L857.09 404.70L858.10 404.76L859.11 404.49L860.12 404.23L861.12 404.17L862.13 404.29L863.13 404.41L864.13 404.28L865.12 404.15L866.12 404.05L867.11 404.05L868.10 404.04L869.08 404.00L870.06 403.93L871.03 403.86L872.00 403.73L873.03 403.60L874.05 403.44L875.05 403.25L876.05 403.06L877.05 403.03L878.03 403.03L879.01 403.06L879.99 403.24L880.96 403.42L881.93 403.48L882.90 403.45L883.87 403.42L884.84 403.38L885.80 403.35L886.78 403.28L887.75 403.04L888.73 402.80L889.71 402.72L890.70 402.79L891.69 402.86L892.69 402.87L893.70 402.88L894.72 402.86L895.75 402.76L896.80 402.66L897.85 402.66L898.92 402.68L900.00 402.64L900.92 402.52L901.84 402.39L902.77 402.34L903.71 402.35L904.66 402.36L905.62 402.34L906.58 402.31L907.55 402.27L908.52 402.09L909.51 401.91L910.49 401.92L911.48 402.11L912.48 402.30L913.48 402.30L914.49 402.28L915.50 402.16L916.51 401.82L917.53 401.47L918.55 401.59L919.57 401.87L920.59 402.09L921.62 402.06L922.65 402.02L923.68 401.91L924.71 401.77L925.74 401.62L926.76 401.36L927.79 401.10L928.82 401.17L929.85 401.44L930.88 401.66L931.90 401.35L932.93 401.04L933.95 401.04L934.96 401.30L935.98 401.56L936.99 401.43L938.00 401.29L939.00 401.10L940.00 400.86L941.02 400.61L942.03 400.56L943.05 400.56L944.06 400.59L945.08 400.72L946.09 400.85L947.10 400.84L948.12 400.78L949.13 400.73L950.15 400.76L951.16 400.78L952.17 400.80L953.19 400.83L954.20 400.85L955.21 400.57L956.22 400.28L957.24 400.07L958.25 399.95L959.26 399.84L960.27 400.07L961.28 400.35L962.30 400.45L963.31 400.09L964.32 399.73L965.33 399.82L966.34 400.09L967.35 400.26L968.37 399.96L969.38 399.65L970.39 399.64L971.40 399.85L972.41 400.05L973.43 400.00L974.44 399.95L975.45 399.92L976.46 399.92L977.47 399.91L978.49 399.78L979.50 399.62" fill="none" stroke="#A03D0A" stroke-width="3.3" stroke-linejoin="round" stroke-linecap="round"/>
<path d="M79.40 533.80L80.41 533.80L81.42 533.80L82.43 533.80L83.45 533.80L84.48 533.80L85.51 533.80L86.54 533.80L87.58 533.80L88.62 533.80L89.67 533.80L90.72 533.80L91.77 533.80L92.83 533.80L93.89 533.80L94.96 533.80L96.02 533.80L97.10 533.80L98.17 533.81L99.25 533.81L100.33 533.81L101.42 533.81L102.51 533.81L103.60 533.81L104.69 533.81L105.79 533.81L106.89 533.81L107.99 533.81L109.10 533.81L110.20 533.81L111.31 533.81L112.43 533.81L113.54 533.81L114.66 533.82L115.77 533.82L116.89 533.82L118.01 533.82L119.14 533.82L120.26 533.82L121.39 533.82L122.52 533.82L123.65 533.82L124.78 533.82L125.91 533.82L127.04 533.83L128.17 533.83L129.31 533.83L130.44 533.83L131.58 533.83L132.71 533.83L133.85 533.83L134.99 533.83L136.13 533.83L137.27 533.83L138.40 533.84L139.54 533.84L140.68 533.84L141.82 533.84L142.96 533.84L144.09 533.84L145.23 533.84L146.37 533.84L147.51 533.84L148.64 533.84L149.78 533.85L150.91 533.85L152.05 533.85L153.18 533.85L154.31 533.85L155.44 533.85L156.57 533.85L157.70 533.85L158.82 533.85L159.95 533.85L161.07 533.85L162.19 533.86L163.31 533.86L164.43 533.86L165.55 533.86L166.66 533.86L167.77 533.86L168.88 533.86L169.99 533.86L171.09 533.86L172.19 533.86L173.29 533.86L174.39 533.86L175.49 533.86L176.58 533.87L177.66 533.87L178.75 533.87L179.83 533.87L180.91 533.87L181.99 533.87L183.06 533.87L184.13 533.87L185.19 533.87L186.26 533.87L187.31 533.87L188.37 533.87L189.42 533.87L190.46 533.87L191.51 533.87L192.54 533.87L193.58 533.87L194.61 533.87L195.63 533.87L196.65 533.87L197.67 533.87L198.68 533.87L199.68 533.87L200.69 533.87L201.68 533.87L202.67 533.87L203.66 533.87L204.64 533.87L205.61 533.87L206.58 533.87L207.55 533.87L208.51 533.87L209.46 533.87L210.41 533.87L211.35 533.87L212.28 533.87L213.21 533.87L214.14 533.87L215.05 533.87L215.96 533.87L216.87 533.87L217.77 533.87L218.66 533.87L219.54 533.86L220.42 533.86L221.29 533.86L222.15 533.86L223.01 533.86L223.86 533.86L224.70 533.86L225.54 533.86L226.37 533.86L227.19 533.85L228.00 533.85L228.80 533.85L229.60 533.85L230.39 533.85L231.17 533.85L231.95 533.84L232.71 533.84L233.47 533.84L234.22 533.84L234.96 533.84L235.69 533.84L236.41 533.83L237.13 533.83L237.83 533.83L238.53 533.83L239.22 533.82L239.90 533.82L240.57 533.82L241.23 533.82L241.88 533.81L242.53 533.81L243.16 533.81L243.78 533.81L244.40 533.80L245.00 533.80L246.38 533.79L247.70 533.79L248.98 533.78L250.21 533.78L251.40 533.78L252.55 533.77L253.66 533.77L254.73 533.77L255.78 533.77L256.79 533.77L257.78 533.76L258.74 533.76L259.68 533.76L260.61 533.75L261.51 533.75L262.41 533.74L263.29 533.74L264.16 533.73L265.03 533.72L265.90 533.71L266.76 533.70L267.63 533.68L268.51 533.67L269.39 533.65L270.28 533.63L271.19 533.61L272.11 533.59L273.05 533.56L274.01 533.53L275.00 533.50L276.01 533.47L277.03 533.43L278.06 533.40L279.10 533.36L280.14 533.32L281.20 533.28L282.26 533.24L283.32 533.20L284.39 533.15L285.46 533.11L286.52 533.06L287.59 533.01L288.65 532.96L289.71 532.91L290.77 532.86L291.82 532.80L292.85 532.74L293.88 532.69L294.90 532.62L295.91 532.56L296.90 532.49L297.88 532.43L298.84 532.36L299.78 532.28L300.71 532.21L301.61 532.13L302.50 532.05L303.36 531.97L304.19 531.89L305.00 531.80L306.19 531.66L307.33 531.51L308.42 531.35L309.46 531.19L310.47 531.02L311.46 530.85L312.42 530.67L313.37 530.49L314.31 530.31L315.26 530.13L316.22 529.95L317.20 529.77L318.20 529.60L319.23 529.42L320.27 529.25L321.33 529.06L322.39 528.88L323.45 528.69L324.51 528.51L325.56 528.33L326.60 528.14L327.62 527.97L328.63 527.79L329.62 527.62L330.57 527.46L331.50 527.30L332.65 527.11L333.74 526.94L334.80 526.78L335.83 526.63L336.85 526.47L337.88 526.30L338.92 526.11L340.00 525.90L340.97 525.69L341.95 525.46L342.95 525.22L343.95 524.97L344.96 524.71L345.97 524.45L346.98 524.18L347.99 523.92L349.00 523.66L350.00 523.40L351.00 523.16L352.00 522.92L353.01 522.68L354.01 522.45L355.02 522.22L356.01 521.98L357.00 521.73L357.98 521.47L358.95 521.19L359.90 520.90L360.87 520.58L361.83 520.24L362.77 519.89L363.71 519.53L364.63 519.16L365.55 518.78L366.47 518.39L367.38 518.00L368.30 517.60L369.22 517.20L370.14 516.79L371.06 516.38L371.97 515.96L372.88 515.53L373.79 515.09L374.69 514.64L375.60 514.18L376.50 513.70L377.44 513.19L378.38 512.65L379.33 512.11L380.28 511.54L381.22 510.97L382.14 510.40L383.05 509.83L383.94 509.26L384.80 508.70L385.76 508.07L386.70 507.44L387.62 506.80L388.51 506.17L389.38 505.54L390.21 504.92L391.00 504.30L391.84 503.59L392.61 502.90L393.35 502.21L394.10 501.51L394.90 500.80L395.70 500.13L396.55 499.47L397.41 498.79L398.27 498.11L399.11 497.41L399.90 496.70L400.76 495.87L401.58 495.02L402.37 494.16L403.14 493.28L403.90 492.40L404.63 491.51L405.33 490.60L406.02 489.69L406.70 488.78L407.40 487.90L408.07 487.08L408.74 486.28L409.41 485.49L410.10 484.70L410.80 483.90L411.58 483.02L412.40 482.12L413.22 481.22L414.03 480.34L414.80 479.50L415.57 478.65L416.31 477.85L417.04 477.05L417.80 476.20L418.51 475.36L419.21 474.47L419.94 473.56L420.73 472.66L421.60 471.80L422.31 471.19L423.08 470.57L423.89 469.96L424.73 469.37L425.59 468.79L426.47 468.23L427.34 467.70L428.20 467.20L429.13 466.70L430.06 466.26L431.00 465.84L431.95 465.45L432.92 465.05L433.90 464.64L434.90 464.20L435.81 463.78L436.75 463.34L437.70 462.88L438.66 462.42L439.64 461.95L440.61 461.49L441.58 461.04L442.55 460.61L443.50 460.20L444.49 459.79L445.47 459.39L446.43 459.01L447.40 458.64L448.37 458.27L449.36 457.91L450.36 457.56L451.40 457.20L452.34 456.89L453.29 456.58L454.26 456.28L455.23 455.98L456.22 455.68L457.22 455.39L458.24 455.10L459.28 454.80L460.33 454.50L461.40 454.20L462.32 453.94L463.29 453.68L464.29 453.41L465.33 453.15L466.37 452.87L467.43 452.60L468.49 452.33L469.53 452.06L470.55 451.80L471.54 451.54L472.49 451.29L473.39 451.05L474.23 450.82L475.00 450.60L476.09 450.26L476.97 449.96L477.81 449.66L478.76 449.35L480.00 449.00L480.61 448.84L481.26 448.67L481.97 448.49L482.73 448.31L483.53 448.11L484.38 447.91L485.26 447.70L486.18 447.49L487.13 447.27L488.12 447.04L489.13 446.81L490.17 446.58L491.23 446.35L492.31 446.11L493.41 445.87L494.52 445.63L495.64 445.39L496.77 445.15L497.91 444.91L499.05 444.67L500.19 444.59L501.33 444.40L502.46 444.20L503.58 444.00L504.70 443.80L505.80 443.64L506.88 443.49L507.94 443.22L508.98 442.95L510.00 442.74L511.00 442.62L512.00 442.50L512.99 442.09L513.99 441.61L514.99 441.22L515.99 441.20L516.99 441.18L517.99 441.18L518.99 441.18L519.99 441.19L520.99 440.93L521.99 440.67L522.99 440.49L523.99 440.42L524.99 440.36L526.00 440.01L527.00 439.59L528.00 439.24L529.00 439.22L530.00 439.20L531.00 439.05L532.00 438.83L533.00 438.61L534.00 438.56L535.00 438.52L536.00 438.44L537.00 438.30L538.00 438.16L539.00 437.86L540.00 437.52L540.99 437.23L541.99 437.15L542.98 437.07L543.97 436.96L544.97 436.83L545.96 436.70L546.95 436.76L547.94 436.83L548.94 436.81L549.93 436.61L550.92 436.41L551.91 436.09L552.90 435.74L553.90 435.42L554.89 435.50L555.88 435.57L556.87 435.43L557.86 435.06L558.86 434.69L559.85 434.66L560.84 434.68L561.84 434.63L562.83 434.32L563.82 434.02L564.82 433.79L565.81 433.61L566.81 433.44L567.81 433.61L568.80 433.78L569.80 433.74L570.80 433.39L571.81 433.03L572.81 432.87L573.81 432.75L574.82 432.69L575.82 432.84L576.83 432.99L577.84 432.95L578.84 432.80L579.85 432.64L580.86 432.32L581.86 432.01L582.87 431.90L583.88 432.03L584.89 432.16L585.90 431.95L586.91 431.69L587.91 431.50L588.92 431.44L589.93 431.39L590.94 431.18L591.95 430.91L592.95 430.70L593.96 430.86L594.97 431.01L595.98 430.96L596.98 430.77L597.99 430.58L598.99 430.57L600.00 430.56L601.00 430.51L602.00 430.38L603.00 430.25L604.00 429.97L605.00 429.66L606.01 429.40L607.01 429.32L608.01 429.24L609.01 429.10L610.01 428.93L611.01 428.77L612.01 428.66L613.01 428.55L614.00 428.43L615.00 428.31L616.00 428.18L617.00 428.14L618.00 428.12L619.00 428.11L620.00 428.11L621.00 428.12L622.00 427.94L623.00 427.63L624.00 427.33L625.00 427.47L626.00 427.60L627.00 427.60L628.00 427.39L629.00 427.17L630.00 427.05L631.00 426.94L632.00 426.87L633.00 426.95L634.00 427.03L635.00 426.94L636.00 426.72L637.00 426.51L638.00 426.36L639.00 426.21L640.00 426.10L641.00 426.06L642.00 426.02L643.00 426.00L644.00 425.98L645.00 425.91L646.00 425.59L647.00 425.28L648.00 425.29L649.00 425.52L650.00 425.74L651.00 425.32L652.00 424.91L653.00 424.73L654.00 424.90L655.00 425.06L656.00 425.06L657.00 425.01L658.00 424.90L659.00 424.54L660.00 424.18L661.03 424.16L662.06 424.36L663.08 424.53L664.11 424.32L665.14 424.10L666.17 424.02L667.19 424.03L668.22 424.04L669.25 423.78L670.27 423.53L671.30 423.37L672.33 423.33L673.35 423.29L674.38 423.29L675.41 423.28L676.43 423.38L677.46 423.60L678.49 423.82L679.51 423.56L680.54 423.24L681.57 423.08L682.60 423.23L683.62 423.37L684.65 423.40L685.68 423.40L686.71 423.38L687.74 423.32L688.77 423.26L689.80 423.03L690.80 422.76L691.81 422.52L692.81 422.46L693.82 422.39L694.82 422.35L695.83 422.33L696.84 422.32L697.84 422.33L698.85 422.33L699.86 422.20L700.86 421.88L701.87 421.57L702.88 421.65L703.89 421.80L704.89 421.88L705.90 421.81L706.91 421.75L707.92 421.69L708.92 421.63L709.93 421.53L710.94 421.16L711.95 420.80L712.96 420.77L713.96 421.01L714.97 421.25L715.98 420.89L716.98 420.52L717.99 420.30L718.99 420.32L720.00 420.34L721.00 420.37L722.00 420.39L723.00 420.43L724.00 420.47L725.00 420.52L726.01 420.38L727.01 420.12L728.01 419.86L729.01 420.00L730.01 420.15L731.01 420.16L732.01 419.97L733.01 419.78L734.01 419.64L735.00 419.50L736.00 419.38L737.00 419.33L738.00 419.28L739.00 419.20L740.00 419.10L741.00 418.99L742.00 418.91L743.00 418.82L744.00 418.75L745.00 418.73L746.00 418.70L747.00 418.80L748.00 418.93L749.00 419.05L750.00 419.10L751.00 419.15L752.00 418.96L753.00 418.62L754.00 418.27L755.00 418.18L756.00 418.09L757.00 418.14L758.00 418.41L759.00 418.68L760.00 418.56L761.00 418.35L762.00 418.16L763.00 418.06L764.01 417.96L765.01 417.86L766.01 417.74L767.01 417.63L768.01 417.70L769.01 417.77L770.01 417.83L771.01 417.85L772.01 417.88L773.01 417.74L774.01 417.56L775.01 417.41L776.00 417.34L777.00 417.28L778.00 417.15L779.00 416.98L780.00 416.80L781.03 417.06L782.06 417.32L783.09 417.28L784.11 416.92L785.14 416.56L786.17 416.65L787.20 416.77L788.22 416.88L789.25 416.95L790.28 417.03L791.30 416.79L792.33 416.49L793.35 416.36L794.38 416.53L795.41 416.70L796.43 416.76L797.46 416.80L798.49 416.78L799.51 416.63L800.54 416.47L801.57 416.44L802.60 416.45L803.62 416.40L804.65 416.11L805.68 415.82L806.71 415.78L807.74 415.84L808.77 415.88L809.80 415.72L810.80 415.57L811.81 415.63L812.81 415.82L813.81 416.00L814.81 415.75L815.81 415.51L816.82 415.36L817.82 415.36L818.82 415.36L819.82 415.46L820.82 415.59L821.82 415.67L822.83 415.56L823.83 415.45L824.83 415.40L825.84 415.38L826.84 415.36L827.85 415.11L828.85 414.87L829.86 414.72L830.87 414.67L831.88 414.63L832.89 414.65L833.90 414.67L834.91 414.65L835.93 414.50L836.94 414.36L837.96 414.24L838.98 414.12L840.00 414.02L840.99 414.01L841.98 414.00L842.97 413.92L843.97 413.78L844.97 413.64L845.97 413.67L846.98 413.70L847.98 413.78L848.99 413.95L850.00 414.12L851.01 414.10L852.02 414.05L853.04 413.96L854.05 413.80L855.06 413.64L856.07 413.53L857.09 413.44L858.10 413.35L859.11 413.25L860.11 413.15L861.12 413.04L862.13 412.91L863.13 412.78L864.13 412.79L865.12 412.81L866.12 412.87L867.11 413.01L868.10 413.15L869.08 413.18L870.06 413.17L871.03 413.16L872.00 412.96L873.03 412.74L874.05 412.67L875.05 412.79L876.05 412.90L877.05 412.89L878.03 412.86L879.01 412.82L879.99 412.77L880.96 412.72L881.93 412.67L882.90 412.64L883.87 412.61L884.84 412.61L885.81 412.62L886.78 412.60L887.75 412.44L888.73 412.28L889.71 412.25L890.70 412.34L891.69 412.43L892.69 412.29L893.70 412.11L894.72 412.00L895.76 412.04L896.80 412.08L897.85 412.15L898.92 412.21L900.00 412.23L900.92 412.17L901.84 412.11L902.77 411.99L903.71 411.82L904.66 411.65L905.62 411.78L906.58 411.95L907.55 412.08L908.52 411.94L909.51 411.80L910.49 411.69L911.49 411.62L912.48 411.56L913.48 411.33L914.49 411.09L915.50 410.96L916.51 411.10L917.53 411.24L918.55 411.17L919.57 411.01L920.60 410.91L921.62 411.01L922.65 411.11L923.68 411.06L924.71 410.94L925.74 410.84L926.77 410.92L927.79 411.00L928.82 410.96L929.85 410.85L930.88 410.75L931.90 410.76L932.93 410.76L933.95 410.66L934.96 410.45L935.98 410.25L936.99 410.30L938.00 410.36L939.00 410.39L940.00 410.38L941.02 410.36L942.03 410.35L943.05 410.34L944.06 410.27L945.08 410.06L946.09 409.85L947.10 409.87L948.12 410.00L949.13 410.11L950.15 410.08L951.16 410.04L952.17 409.97L953.18 409.86L954.20 409.75L955.21 409.81L956.22 409.87L957.24 409.88L958.25 409.83L959.26 409.78L960.27 409.60L961.28 409.40L962.30 409.25L963.31 409.21L964.32 409.18L965.33 409.04L966.34 408.87L967.35 408.76L968.37 408.95L969.38 409.14L970.39 409.21L971.40 409.21L972.41 409.20L973.43 408.99L974.44 408.79L975.45 408.69L976.46 408.72L977.47 408.75L978.49 408.72L979.50 408.69" fill="none" stroke="#104A5E" stroke-width="3.3" stroke-linejoin="round" stroke-linecap="round"/>
<line x1="159.6" y1="20.9" x2="203.2" y2="20.9" stroke="#ED7D31" stroke-width="3.2" stroke-linecap="round"/>
<text x="208.2" y="27.2" font-size="18" letter-spacing="0.75">0 mmol/L Tween 80</text>
<line x1="444.4" y1="20.9" x2="488.0" y2="20.9" stroke="#3498BB" stroke-width="3.2" stroke-linecap="round"/>
<text x="492.8" y="27.2" font-size="18" letter-spacing="0.75">0.01 mmol/L Tween 80</text>
<line x1="728.5" y1="20.8" x2="772.1" y2="20.8" stroke="#5E448E" stroke-width="3.2" stroke-linecap="round"/>
<text x="777.2" y="27.1" font-size="18" letter-spacing="0.75">0.1 mmol/L Tween 80</text>
<line x1="159.6" y1="58.7" x2="203.2" y2="58.7" stroke="#A03D0A" stroke-width="3.2" stroke-linecap="round"/>
<text x="208.2" y="64.9" font-size="18" letter-spacing="0.75">1 mmol/L Tween 80</text>
<line x1="444.4" y1="58.7" x2="488.0" y2="58.7" stroke="#104A5E" stroke-width="3.2" stroke-linecap="round"/>
<text x="492.8" y="64.9" font-size="18" letter-spacing="0.75">10 mmol/L Tween 80</text>
<text x="834.0" y="90.6" font-size="24.5" textLength="12.6" lengthAdjust="spacingAndGlyphs">λ</text>
<text x="846.4" y="96.6" font-size="14.8" textLength="28.6" lengthAdjust="spacingAndGlyphs">max</text>
<text x="880.3" y="90.3" font-size="19.5" textLength="12.4" lengthAdjust="spacingAndGlyphs">=</text>
<text x="899" y="90.6" font-size="23" letter-spacing="0.3">533</text>
<text x="943.6" y="90.6" font-size="22.4" textLength="33.6" lengthAdjust="spacingAndGlyphs">nm</text>
<text x="834.0" y="192.1" font-size="24.5" textLength="12.6" lengthAdjust="spacingAndGlyphs">λ</text>
<text x="846.4" y="198.1" font-size="14.8" textLength="28.6" lengthAdjust="spacingAndGlyphs">max</text>
<text x="880.3" y="191.8" font-size="19.5" textLength="12.4" lengthAdjust="spacingAndGlyphs">=</text>
<text x="899" y="192.1" font-size="23" letter-spacing="0.3">541</text>
<text x="943.6" y="192.1" font-size="22.4" textLength="33.6" lengthAdjust="spacingAndGlyphs">nm</text>
<text x="834.0" y="288" font-size="24.5" textLength="12.6" lengthAdjust="spacingAndGlyphs">λ</text>
<text x="846.4" y="294.0" font-size="14.8" textLength="28.6" lengthAdjust="spacingAndGlyphs">max</text>
<text x="880.3" y="287.7" font-size="19.5" textLength="12.4" lengthAdjust="spacingAndGlyphs">=</text>
<text x="899" y="288" font-size="23" letter-spacing="0.3">535</text>
<text x="943.6" y="288" font-size="22.4" textLength="33.6" lengthAdjust="spacingAndGlyphs">nm</text>
<text x="834.0" y="382.2" font-size="24.5" textLength="12.6" lengthAdjust="spacingAndGlyphs">λ</text>
<text x="846.4" y="388.2" font-size="14.8" textLength="28.6" lengthAdjust="spacingAndGlyphs">max</text>
<text x="880.3" y="381.9" font-size="19.5" textLength="12.4" lengthAdjust="spacingAndGlyphs">=</text>
<text x="899" y="382.2" font-size="23" letter-spacing="0.3">523</text>
<text x="943.6" y="382.2" font-size="22.4" textLength="33.6" lengthAdjust="spacingAndGlyphs">nm</text>
<text x="834.0" y="458.5" font-size="24.5" textLength="12.6" lengthAdjust="spacingAndGlyphs">λ</text>
<text x="846.4" y="464.5" font-size="14.8" textLength="28.6" lengthAdjust="spacingAndGlyphs">max</text>
<text x="880.3" y="458.2" font-size="19.5" textLength="12.4" lengthAdjust="spacingAndGlyphs">=</text>
<text x="899" y="458.5" font-size="23" letter-spacing="0.3">515</text>
<text x="943.6" y="458.5" font-size="22.4" textLength="33.6" lengthAdjust="spacingAndGlyphs">nm</text>
</svg>
</body></html>
